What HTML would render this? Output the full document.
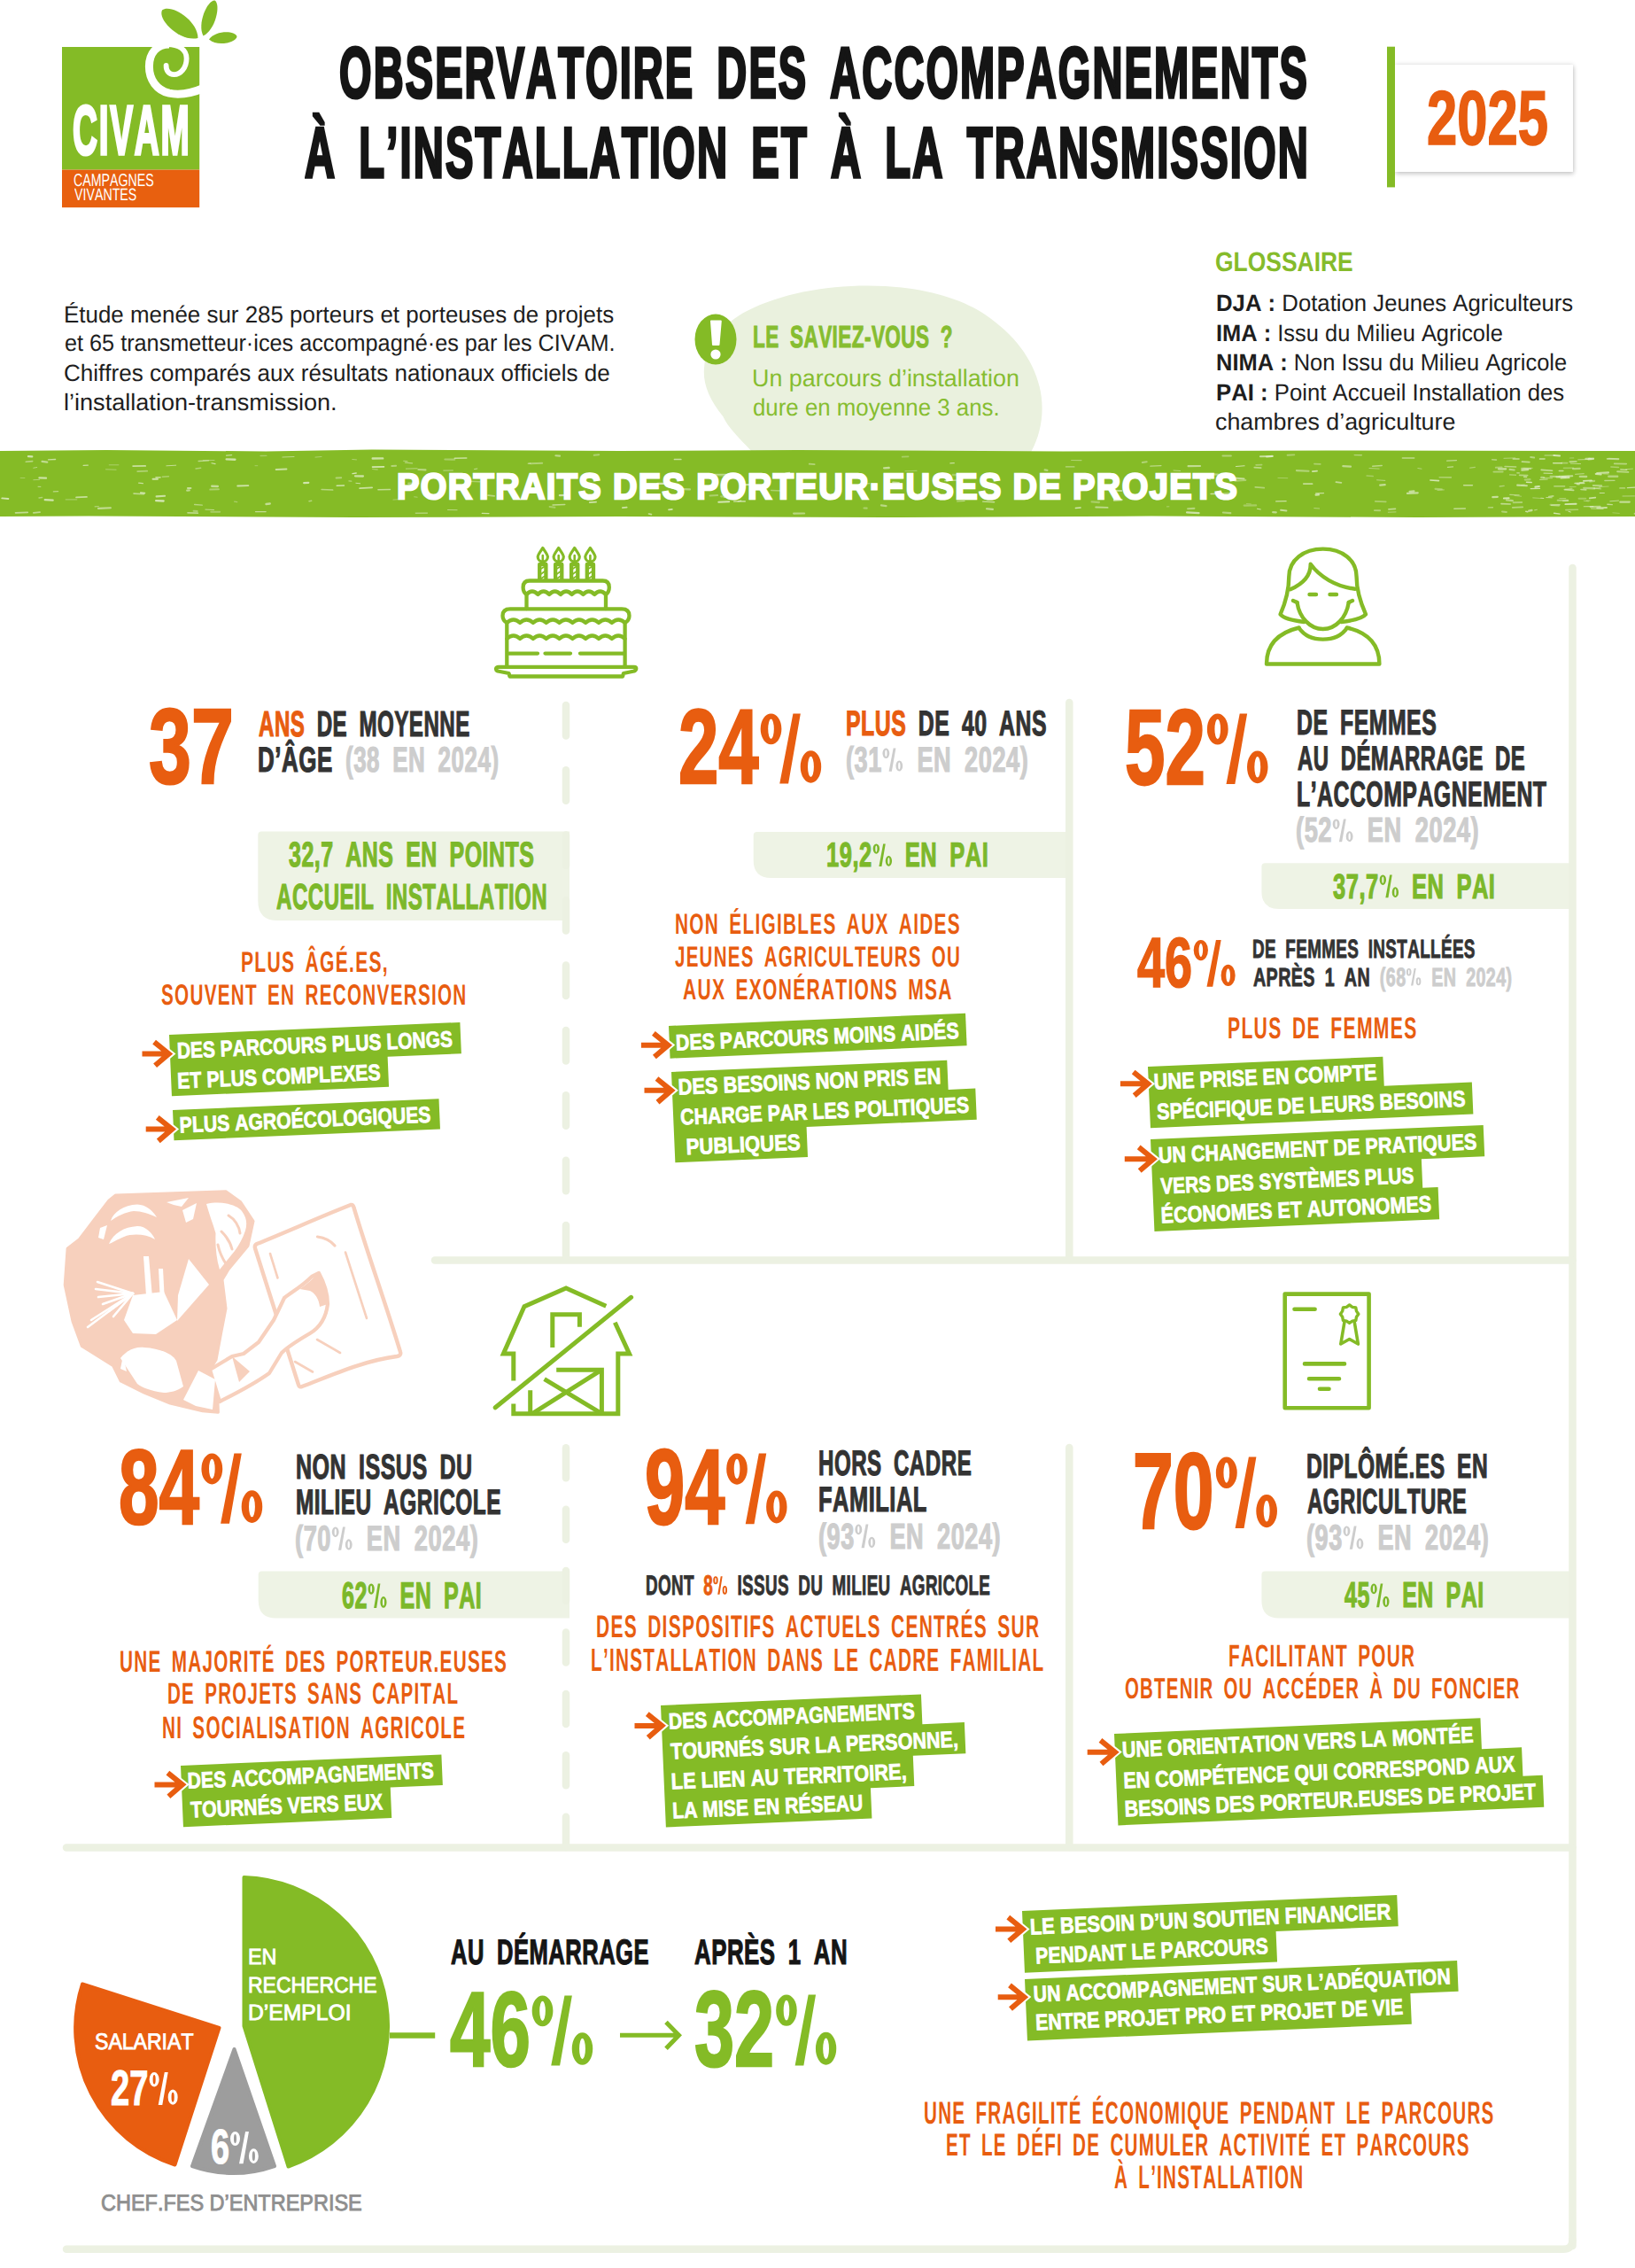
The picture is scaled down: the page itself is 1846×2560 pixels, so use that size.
<!DOCTYPE html><html lang="fr"><head><meta charset="utf-8"><title>Observatoire des accompagnements 2025</title><style>
*{margin:0;padding:0;box-sizing:border-box}
html,body{width:1846px;height:2560px;background:#fff;overflow:hidden}
body{position:relative;font-family:"Liberation Sans",sans-serif;font-kerning:none;font-variant-ligatures:none;text-rendering:geometricPrecision}
.t{position:absolute;white-space:nowrap;transform-origin:0 0}
.tag{position:absolute;width:0;height:0;transform-origin:0 0}
.bx{position:absolute;background:#84bb26}
.tb{position:absolute;left:0;top:0;overflow:visible}
svg.l{position:absolute;left:0;top:0}
.y25{position:absolute;left:1575px;top:73.4px;width:201px;height:121px;background:#fff;box-shadow:0 0 5px rgba(0,0,0,0.16),1px 3px 5px rgba(0,0,0,0.14)}
</style></head><body><svg class="l" width="1846" height="2560" viewBox="0 0 1846 2560"><rect x="70" y="53" width="155.2" height="138.6" fill="#84bb26"/><rect x="70" y="191.6" width="155.2" height="42.6" fill="#e8600f"/><path d="M 231,99 C 216,105.5 203,107.8 191,105.2 C 177,101.8 168.4,90 168.4,75 C 168.4,60 177,50 191,50" fill="none" stroke="#fff" stroke-width="9"/><path d="M 189,50 C 202,50 210.6,56 210.6,66 C 210.6,77 203.6,84.2 196.5,84.2 C 190.5,84.2 187.5,79.5 187.6,74" fill="none" stroke="#fff" stroke-width="5.8" stroke-linecap="round"/><path d="M 223.5,43.0 C 223.2,22.5 192.4,3.6 183.0,11.5 C 177.7,22.5 203.6,47.8 223.5,43.0 Z" fill="#84bb26"/><path d="M 229.5,40.5 C 243.2,33.9 249.7,5.0 242.5,0.5 C 234.0,-0.0 222.3,27.1 229.5,40.5 Z" fill="#84bb26"/><path d="M 236.0,44.5 C 244.9,53.1 266.7,48.3 267.5,41.0 C 265.1,34.1 242.8,34.2 236.0,44.5 Z" fill="#84bb26"/><path d="M 979.5,322.4 C 1040,322.4 1085,337 1111.7,354.7 C 1145,377 1166,405 1173.6,436.3 C 1180,462 1176,490 1163,512 L 851,512 C 835,495 822,483 816.3,470.1 C 800,450 793,432 795.2,413.8 C 797,390 815,365 844.4,350.5 C 880,332 930,322.4 979.5,322.4 Z" fill="#eaf1de"/><ellipse cx="808" cy="383" rx="23.5" ry="28.5" fill="#84bb26"/><path d="M 803,362.5 L 813.8,362.5 L 811.5,389 L 805,389 Z" fill="#fff" stroke="#fff" stroke-width="2" stroke-linejoin="round"/><circle cx="808" cy="400" r="5.6" fill="#fff"/><path d="M 0,509 L 120,508 L 300,509.5 L 420,507.5 L 700,509 L 900,508 L 1200,509.5 L 1500,508.5 L 1846,509 L 1846,583 L 1600,584 L 1300,582.5 L 1000,584 L 700,583 L 400,584 L 100,582.5 L 0,583 Z" fill="#85bb26"/><g stroke="#e2efcb" stroke-linecap="round"><line x1="1567.9" y1="574.9" x2="1575.5" y2="574.4" stroke-width="1.6" opacity="0.64"/><line x1="264.6" y1="566.1" x2="267.7" y2="566.6" stroke-width="1.3" opacity="0.40"/><line x1="17.6" y1="578.8" x2="31.2" y2="578.3" stroke-width="1.8" opacity="0.66"/><line x1="1772.4" y1="517.0" x2="1776.7" y2="516.9" stroke-width="1.2" opacity="0.37"/><line x1="1652.7" y1="547.8" x2="1662.4" y2="547.7" stroke-width="1.6" opacity="0.68"/><line x1="1845.6" y1="579.7" x2="1857.7" y2="579.3" stroke-width="1.9" opacity="0.51"/><line x1="1701.0" y1="564.3" x2="1707.8" y2="565.1" stroke-width="2.2" opacity="0.54"/><line x1="420.5" y1="527.1" x2="433.5" y2="526.9" stroke-width="1.6" opacity="0.84"/><line x1="1788.2" y1="565.2" x2="1793.4" y2="565.9" stroke-width="0.9" opacity="0.52"/><line x1="535.6" y1="529.5" x2="538.8" y2="529.0" stroke-width="0.9" opacity="0.75"/><line x1="187.9" y1="525.8" x2="198.7" y2="525.2" stroke-width="1.0" opacity="0.67"/><line x1="1463.9" y1="531.1" x2="1477.5" y2="531.7" stroke-width="2.1" opacity="0.50"/><line x1="1751.5" y1="570.2" x2="1761.2" y2="569.8" stroke-width="1.0" opacity="0.84"/><line x1="1810.5" y1="535.0" x2="1816.1" y2="535.2" stroke-width="0.9" opacity="0.40"/><line x1="1783.8" y1="537.9" x2="1791.2" y2="538.0" stroke-width="2.3" opacity="0.59"/><line x1="599.2" y1="523.3" x2="612.1" y2="522.8" stroke-width="2.1" opacity="0.47"/><line x1="1341.6" y1="526.2" x2="1355.0" y2="526.0" stroke-width="2.2" opacity="0.65"/><line x1="1696.0" y1="577.5" x2="1700.9" y2="578.0" stroke-width="1.9" opacity="0.48"/><line x1="123.2" y1="524.8" x2="133.9" y2="524.8" stroke-width="0.9" opacity="0.46"/><line x1="1022.0" y1="531.8" x2="1035.0" y2="531.4" stroke-width="1.1" opacity="0.36"/><line x1="1418.1" y1="524.8" x2="1424.6" y2="524.6" stroke-width="1.7" opacity="0.42"/><line x1="1380.9" y1="557.0" x2="1391.2" y2="556.3" stroke-width="1.7" opacity="0.42"/><line x1="1832.0" y1="560.0" x2="1845.5" y2="559.9" stroke-width="0.8" opacity="0.67"/><line x1="732.5" y1="580.0" x2="735.4" y2="580.6" stroke-width="1.7" opacity="0.72"/><line x1="1109.6" y1="566.1" x2="1122.6" y2="566.8" stroke-width="1.4" opacity="0.69"/><line x1="828.8" y1="566.0" x2="841.2" y2="565.8" stroke-width="1.7" opacity="0.66"/><line x1="255.7" y1="518.4" x2="265.4" y2="518.7" stroke-width="2.4" opacity="0.79"/><line x1="1620.5" y1="551.9" x2="1627.8" y2="552.3" stroke-width="2.1" opacity="0.39"/><line x1="1783.8" y1="545.2" x2="1788.6" y2="545.4" stroke-width="1.9" opacity="0.60"/><line x1="670.7" y1="513.8" x2="676.3" y2="513.2" stroke-width="1.9" opacity="0.45"/><line x1="1066.8" y1="542.6" x2="1079.5" y2="542.1" stroke-width="1.3" opacity="0.68"/><line x1="1641.8" y1="574.3" x2="1654.4" y2="574.0" stroke-width="1.4" opacity="0.64"/><line x1="1767.4" y1="569.1" x2="1779.6" y2="568.7" stroke-width="1.9" opacity="0.83"/><line x1="1760.3" y1="531.4" x2="1764.9" y2="531.4" stroke-width="1.5" opacity="0.66"/><line x1="1820.9" y1="578.8" x2="1828.3" y2="579.4" stroke-width="0.9" opacity="0.37"/><line x1="1800.5" y1="551.2" x2="1806.3" y2="550.6" stroke-width="2.1" opacity="0.36"/><line x1="1407.4" y1="568.6" x2="1412.3" y2="568.8" stroke-width="1.0" opacity="0.37"/><line x1="1589.0" y1="556.9" x2="1600.7" y2="556.4" stroke-width="2.3" opacity="0.69"/><line x1="1453.6" y1="513.7" x2="1461.3" y2="513.4" stroke-width="1.9" opacity="0.44"/><line x1="1798.8" y1="547.9" x2="1808.2" y2="548.3" stroke-width="2.0" opacity="0.55"/><line x1="505.5" y1="575.5" x2="516.1" y2="575.7" stroke-width="1.0" opacity="0.58"/><line x1="789.3" y1="551.1" x2="801.8" y2="551.1" stroke-width="2.1" opacity="0.82"/><line x1="86.1" y1="561.4" x2="97.9" y2="560.9" stroke-width="1.8" opacity="0.71"/><line x1="1380.9" y1="578.5" x2="1389.3" y2="579.1" stroke-width="2.1" opacity="0.51"/><line x1="761.5" y1="518.5" x2="768.8" y2="518.5" stroke-width="1.7" opacity="0.73"/><line x1="1816.2" y1="517.3" x2="1827.8" y2="517.8" stroke-width="1.1" opacity="0.52"/><line x1="1713.2" y1="547.6" x2="1723.9" y2="548.3" stroke-width="2.1" opacity="0.69"/><line x1="1684.7" y1="518.8" x2="1689.4" y2="519.1" stroke-width="1.6" opacity="0.50"/><line x1="219.6" y1="569.5" x2="228.3" y2="570.1" stroke-width="1.3" opacity="0.54"/><line x1="624.1" y1="570.0" x2="637.7" y2="569.5" stroke-width="1.6" opacity="0.64"/><line x1="211.3" y1="553.6" x2="213.7" y2="553.4" stroke-width="2.4" opacity="0.61"/><line x1="971.6" y1="545.9" x2="981.9" y2="545.8" stroke-width="0.9" opacity="0.62"/><line x1="1325.0" y1="531.0" x2="1332.6" y2="531.5" stroke-width="1.0" opacity="0.57"/><line x1="887.0" y1="534.3" x2="891.3" y2="533.7" stroke-width="1.8" opacity="0.81"/><line x1="442.3" y1="526.0" x2="447.1" y2="525.8" stroke-width="1.9" opacity="0.51"/><line x1="44.1" y1="562.0" x2="47.5" y2="561.5" stroke-width="1.6" opacity="0.48"/><line x1="183.4" y1="538.2" x2="190.4" y2="537.7" stroke-width="1.6" opacity="0.43"/><line x1="268.2" y1="548.5" x2="280.4" y2="548.1" stroke-width="1.8" opacity="0.78"/><line x1="1214.3" y1="573.5" x2="1220.1" y2="573.0" stroke-width="1.3" opacity="0.81"/><line x1="1289.8" y1="522.0" x2="1294.7" y2="521.3" stroke-width="2.0" opacity="0.48"/><line x1="833.2" y1="565.9" x2="836.7" y2="565.2" stroke-width="1.4" opacity="0.69"/><line x1="1796.5" y1="574.1" x2="1810.1" y2="574.5" stroke-width="1.0" opacity="0.60"/><line x1="288.0" y1="525.7" x2="290.8" y2="525.7" stroke-width="1.0" opacity="0.37"/><line x1="238.9" y1="522.8" x2="243.1" y2="523.6" stroke-width="1.1" opacity="0.77"/><line x1="513.3" y1="517.2" x2="526.8" y2="516.9" stroke-width="1.5" opacity="0.73"/><line x1="1554.6" y1="541.8" x2="1563.8" y2="542.4" stroke-width="0.8" opacity="0.70"/><line x1="1760.8" y1="562.5" x2="1767.7" y2="562.6" stroke-width="1.1" opacity="0.43"/><line x1="1829.3" y1="566.7" x2="1839.8" y2="566.6" stroke-width="2.2" opacity="0.66"/><line x1="211.8" y1="578.8" x2="223.5" y2="579.2" stroke-width="1.2" opacity="0.81"/><line x1="1218.3" y1="540.2" x2="1231.1" y2="540.6" stroke-width="2.2" opacity="0.70"/><line x1="817.6" y1="561.4" x2="820.5" y2="560.6" stroke-width="1.3" opacity="0.58"/><line x1="1591.6" y1="554.8" x2="1596.4" y2="554.5" stroke-width="2.3" opacity="0.68"/><line x1="239.2" y1="548.7" x2="245.9" y2="549.0" stroke-width="2.4" opacity="0.67"/><line x1="1380.5" y1="514.5" x2="1389.9" y2="514.4" stroke-width="2.0" opacity="0.48"/><line x1="1720.5" y1="538.2" x2="1723.7" y2="538.3" stroke-width="1.2" opacity="0.80"/><line x1="406.2" y1="551.1" x2="420.1" y2="550.4" stroke-width="1.8" opacity="0.75"/><line x1="318.9" y1="516.0" x2="332.0" y2="515.5" stroke-width="1.1" opacity="0.59"/><line x1="1583.4" y1="516.9" x2="1596.7" y2="517.1" stroke-width="1.5" opacity="0.61"/><line x1="1485.7" y1="556.9" x2="1494.5" y2="556.6" stroke-width="1.3" opacity="0.71"/><line x1="1728.2" y1="515.9" x2="1732.1" y2="516.5" stroke-width="2.0" opacity="0.54"/><line x1="469.2" y1="579.2" x2="482.5" y2="579.1" stroke-width="0.9" opacity="0.80"/><line x1="1692.0" y1="529.3" x2="1700.2" y2="529.3" stroke-width="2.3" opacity="0.71"/><line x1="1220.4" y1="553.4" x2="1223.7" y2="553.0" stroke-width="1.8" opacity="0.58"/><line x1="1772.4" y1="521.3" x2="1779.7" y2="520.9" stroke-width="1.9" opacity="0.58"/><line x1="176.2" y1="565.1" x2="184.6" y2="565.5" stroke-width="2.4" opacity="0.83"/><line x1="1707.8" y1="572.8" x2="1719.2" y2="572.4" stroke-width="1.8" opacity="0.53"/><line x1="237.3" y1="552.6" x2="246.9" y2="552.2" stroke-width="2.0" opacity="0.44"/><line x1="1317.4" y1="571.9" x2="1319.9" y2="571.8" stroke-width="0.9" opacity="0.49"/><line x1="43.0" y1="549.3" x2="45.9" y2="549.4" stroke-width="0.9" opacity="0.69"/><line x1="156.7" y1="545.1" x2="161.3" y2="545.6" stroke-width="1.3" opacity="0.72"/><line x1="1708.7" y1="567.2" x2="1718.2" y2="567.1" stroke-width="2.0" opacity="0.46"/><line x1="1816.3" y1="537.7" x2="1826.2" y2="537.8" stroke-width="2.4" opacity="0.51"/><line x1="1322.4" y1="541.7" x2="1328.8" y2="541.0" stroke-width="1.0" opacity="0.79"/><line x1="1778.0" y1="545.5" x2="1788.2" y2="544.8" stroke-width="1.3" opacity="0.74"/><line x1="1793.3" y1="518.5" x2="1798.9" y2="518.1" stroke-width="2.0" opacity="0.70"/><line x1="1745.8" y1="561.6" x2="1752.2" y2="561.8" stroke-width="1.0" opacity="0.70"/><line x1="1341.1" y1="574.2" x2="1348.4" y2="573.9" stroke-width="2.1" opacity="0.50"/><line x1="1680.4" y1="572.9" x2="1685.4" y2="572.7" stroke-width="1.4" opacity="0.53"/><line x1="1516.3" y1="526.1" x2="1525.0" y2="526.6" stroke-width="2.1" opacity="0.62"/><line x1="74.2" y1="563.8" x2="86.7" y2="563.9" stroke-width="1.3" opacity="0.36"/><line x1="238.3" y1="577.7" x2="248.1" y2="577.8" stroke-width="2.1" opacity="0.38"/><line x1="502.4" y1="518.5" x2="513.2" y2="518.7" stroke-width="2.2" opacity="0.39"/><line x1="1806.3" y1="556.5" x2="1811.3" y2="556.5" stroke-width="1.2" opacity="0.73"/><line x1="806.5" y1="535.6" x2="820.1" y2="535.7" stroke-width="1.9" opacity="0.60"/><line x1="1114.0" y1="574.3" x2="1120.9" y2="574.9" stroke-width="2.1" opacity="0.68"/><line x1="1237.2" y1="572.5" x2="1250.6" y2="572.9" stroke-width="1.8" opacity="0.61"/><line x1="833.2" y1="541.2" x2="836.9" y2="541.0" stroke-width="2.0" opacity="0.85"/><line x1="1721.9" y1="541.5" x2="1727.4" y2="541.2" stroke-width="2.4" opacity="0.38"/><line x1="1791.1" y1="565.0" x2="1795.2" y2="565.1" stroke-width="0.9" opacity="0.58"/><line x1="455.6" y1="520.3" x2="459.9" y2="520.6" stroke-width="1.1" opacity="0.47"/><line x1="94.1" y1="525.4" x2="99.4" y2="525.1" stroke-width="1.1" opacity="0.73"/><line x1="343.2" y1="545.1" x2="348.3" y2="544.9" stroke-width="2.2" opacity="0.81"/><line x1="401.9" y1="545.3" x2="406.6" y2="545.8" stroke-width="0.9" opacity="0.82"/><line x1="1558.3" y1="547.6" x2="1563.6" y2="547.1" stroke-width="2.4" opacity="0.68"/><line x1="1763.7" y1="537.9" x2="1775.3" y2="537.3" stroke-width="1.9" opacity="0.65"/><line x1="1740.2" y1="530.4" x2="1752.6" y2="531.2" stroke-width="1.6" opacity="0.67"/><line x1="1773.4" y1="523.1" x2="1784.6" y2="523.6" stroke-width="0.8" opacity="0.76"/><line x1="500.8" y1="531.1" x2="511.4" y2="531.0" stroke-width="1.0" opacity="0.59"/><line x1="994.9" y1="570.4" x2="1000.5" y2="571.1" stroke-width="2.1" opacity="0.56"/><line x1="1818.9" y1="527.0" x2="1827.4" y2="527.5" stroke-width="1.6" opacity="0.43"/><line x1="1738.5" y1="518.1" x2="1744.1" y2="517.9" stroke-width="1.5" opacity="0.71"/><line x1="44.4" y1="539.4" x2="52.0" y2="539.7" stroke-width="2.3" opacity="0.76"/><line x1="1748.8" y1="560.6" x2="1753.7" y2="559.8" stroke-width="1.7" opacity="0.58"/><line x1="1203.5" y1="526.9" x2="1212.9" y2="526.9" stroke-width="1.3" opacity="0.54"/><line x1="1742.6" y1="539.3" x2="1752.6" y2="539.6" stroke-width="1.2" opacity="0.45"/><line x1="1837.4" y1="550.7" x2="1848.1" y2="550.1" stroke-width="1.3" opacity="0.76"/><line x1="1704.7" y1="558.4" x2="1715.2" y2="558.9" stroke-width="1.1" opacity="0.55"/><line x1="37.8" y1="528.2" x2="41.7" y2="527.5" stroke-width="1.0" opacity="0.55"/><line x1="838.5" y1="547.3" x2="848.2" y2="547.1" stroke-width="2.0" opacity="0.76"/><line x1="1754.3" y1="514.0" x2="1761.1" y2="514.5" stroke-width="1.9" opacity="0.84"/><line x1="255.6" y1="514.2" x2="261.6" y2="513.6" stroke-width="1.3" opacity="0.68"/><line x1="1552.8" y1="565.8" x2="1564.7" y2="566.3" stroke-width="1.8" opacity="0.43"/><line x1="957.3" y1="536.6" x2="965.3" y2="537.4" stroke-width="1.0" opacity="0.71"/><line x1="300.5" y1="569.0" x2="304.8" y2="568.5" stroke-width="2.3" opacity="0.66"/><line x1="1728.2" y1="551.6" x2="1738.5" y2="551.4" stroke-width="1.3" opacity="0.81"/><line x1="1437.2" y1="578.2" x2="1440.8" y2="578.3" stroke-width="2.2" opacity="0.62"/><line x1="111.0" y1="573.9" x2="124.9" y2="573.3" stroke-width="2.1" opacity="0.65"/><line x1="702.8" y1="573.1" x2="707.7" y2="572.6" stroke-width="1.7" opacity="0.77"/><line x1="32.0" y1="515.1" x2="36.2" y2="515.4" stroke-width="2.4" opacity="0.82"/><line x1="1794.7" y1="562.4" x2="1801.3" y2="561.7" stroke-width="1.7" opacity="0.75"/><line x1="1763.0" y1="522.6" x2="1769.6" y2="522.6" stroke-width="1.7" opacity="0.44"/><line x1="1778.6" y1="535.3" x2="1788.3" y2="534.7" stroke-width="0.9" opacity="0.69"/><line x1="1008.1" y1="544.5" x2="1015.0" y2="544.9" stroke-width="1.8" opacity="0.69"/><line x1="896.1" y1="579.6" x2="908.1" y2="579.5" stroke-width="2.2" opacity="0.55"/><line x1="380.2" y1="548.2" x2="388.5" y2="548.0" stroke-width="1.5" opacity="0.80"/><line x1="1803.2" y1="573.3" x2="1814.0" y2="573.0" stroke-width="1.8" opacity="0.73"/><line x1="29.3" y1="521.3" x2="36.7" y2="520.6" stroke-width="1.6" opacity="0.55"/><line x1="221.0" y1="529.0" x2="226.7" y2="528.3" stroke-width="1.4" opacity="0.47"/><line x1="1367.1" y1="557.6" x2="1379.5" y2="557.2" stroke-width="1.5" opacity="0.75"/><line x1="975.5" y1="573.5" x2="978.7" y2="573.6" stroke-width="2.1" opacity="0.41"/><line x1="420.6" y1="529.3" x2="426.2" y2="530.0" stroke-width="1.3" opacity="0.38"/><line x1="809.3" y1="536.9" x2="818.3" y2="537.5" stroke-width="0.9" opacity="0.37"/><line x1="1767.8" y1="575.6" x2="1781.5" y2="575.2" stroke-width="1.6" opacity="0.45"/><line x1="1298.9" y1="526.1" x2="1310.9" y2="525.6" stroke-width="1.4" opacity="0.59"/><line x1="1395.5" y1="526.5" x2="1405.1" y2="525.8" stroke-width="1.1" opacity="0.79"/><line x1="1803.2" y1="534.0" x2="1816.0" y2="533.4" stroke-width="2.2" opacity="0.71"/><line x1="393.9" y1="542.8" x2="396.8" y2="543.2" stroke-width="1.2" opacity="0.50"/><line x1="1718.2" y1="528.8" x2="1728.2" y2="529.0" stroke-width="2.1" opacity="0.54"/><line x1="998.1" y1="528.3" x2="1003.7" y2="528.0" stroke-width="2.3" opacity="0.68"/><line x1="37.8" y1="578.9" x2="45.1" y2="578.1" stroke-width="1.6" opacity="0.62"/><line x1="119.5" y1="529.8" x2="131.1" y2="530.2" stroke-width="0.9" opacity="0.49"/><line x1="1733.5" y1="549.7" x2="1737.8" y2="549.0" stroke-width="2.2" opacity="0.84"/><line x1="1625.2" y1="538.8" x2="1638.3" y2="538.9" stroke-width="1.6" opacity="0.44"/><line x1="151.0" y1="557.1" x2="162.4" y2="557.7" stroke-width="1.6" opacity="0.60"/><line x1="218.6" y1="576.8" x2="222.7" y2="576.9" stroke-width="2.0" opacity="0.43"/><line x1="1758.7" y1="564.8" x2="1770.1" y2="564.8" stroke-width="2.1" opacity="0.47"/><line x1="1780.5" y1="546.4" x2="1782.9" y2="546.5" stroke-width="1.8" opacity="0.71"/><line x1="596.4" y1="523.2" x2="598.6" y2="523.1" stroke-width="1.6" opacity="0.57"/><line x1="1814.6" y1="517.9" x2="1827.5" y2="518.3" stroke-width="1.7" opacity="0.62"/><line x1="1712.8" y1="533.8" x2="1715.3" y2="533.9" stroke-width="1.3" opacity="0.66"/><line x1="1781.8" y1="518.9" x2="1793.7" y2="518.4" stroke-width="1.1" opacity="0.48"/><line x1="349.0" y1="565.7" x2="351.7" y2="565.3" stroke-width="1.5" opacity="0.53"/><line x1="461.3" y1="545.8" x2="472.4" y2="545.7" stroke-width="2.4" opacity="0.42"/><line x1="458.4" y1="529.1" x2="471.1" y2="528.8" stroke-width="1.0" opacity="0.55"/><line x1="1422.9" y1="515.3" x2="1436.9" y2="514.9" stroke-width="2.0" opacity="0.72"/><line x1="1776.1" y1="529.2" x2="1783.6" y2="528.9" stroke-width="2.3" opacity="0.53"/><line x1="1018.7" y1="515.7" x2="1025.5" y2="515.4" stroke-width="1.8" opacity="0.38"/><line x1="363.1" y1="552.6" x2="375.7" y2="553.1" stroke-width="1.5" opacity="0.55"/><line x1="1634.4" y1="527.4" x2="1640.6" y2="526.9" stroke-width="1.1" opacity="0.62"/><line x1="1723.5" y1="544.3" x2="1729.2" y2="544.6" stroke-width="1.5" opacity="0.85"/><line x1="620.5" y1="538.7" x2="623.4" y2="538.3" stroke-width="1.9" opacity="0.53"/><line x1="1718.4" y1="530.6" x2="1725.1" y2="530.2" stroke-width="2.3" opacity="0.71"/><line x1="1446.1" y1="575.8" x2="1452.4" y2="576.4" stroke-width="2.0" opacity="0.71"/><line x1="1740.2" y1="538.8" x2="1743.2" y2="539.2" stroke-width="2.2" opacity="0.51"/><line x1="23.1" y1="539.4" x2="27.9" y2="539.5" stroke-width="0.9" opacity="0.43"/><line x1="1738.7" y1="541.4" x2="1747.2" y2="541.0" stroke-width="1.0" opacity="0.70"/><line x1="1072.9" y1="522.9" x2="1077.3" y2="522.7" stroke-width="1.2" opacity="0.71"/><line x1="1659.8" y1="528.1" x2="1665.3" y2="527.4" stroke-width="1.4" opacity="0.46"/><line x1="1788.3" y1="550.9" x2="1800.0" y2="551.2" stroke-width="2.4" opacity="0.50"/><line x1="631.9" y1="559.2" x2="641.9" y2="558.8" stroke-width="2.3" opacity="0.78"/><line x1="37.8" y1="541.7" x2="44.5" y2="541.4" stroke-width="0.9" opacity="0.54"/><line x1="1483.9" y1="523.6" x2="1490.8" y2="523.9" stroke-width="1.6" opacity="0.43"/><line x1="1704.5" y1="535.9" x2="1711.6" y2="536.2" stroke-width="1.0" opacity="0.64"/><line x1="294.1" y1="514.5" x2="300.8" y2="514.4" stroke-width="1.4" opacity="0.38"/><line x1="1767.3" y1="552.3" x2="1774.9" y2="551.5" stroke-width="1.3" opacity="0.48"/><line x1="1829.1" y1="550.9" x2="1834.3" y2="550.9" stroke-width="1.9" opacity="0.44"/><line x1="401.0" y1="537.3" x2="409.9" y2="537.5" stroke-width="2.3" opacity="0.74"/><line x1="172.6" y1="540.8" x2="177.9" y2="540.7" stroke-width="2.1" opacity="0.79"/><line x1="457.4" y1="522.1" x2="465.5" y2="522.9" stroke-width="1.3" opacity="0.53"/><line x1="1720.0" y1="528.3" x2="1730.2" y2="528.4" stroke-width="1.2" opacity="0.35"/><line x1="1471.8" y1="546.1" x2="1481.6" y2="546.2" stroke-width="1.7" opacity="0.66"/><line x1="1369.4" y1="535.3" x2="1375.6" y2="535.7" stroke-width="2.2" opacity="0.51"/><line x1="288.4" y1="577.6" x2="300.2" y2="577.6" stroke-width="1.1" opacity="0.66"/><line x1="155.2" y1="532.1" x2="166.2" y2="531.7" stroke-width="1.7" opacity="0.47"/><line x1="1717.7" y1="547.4" x2="1721.2" y2="546.8" stroke-width="0.9" opacity="0.38"/><line x1="530.5" y1="543.3" x2="541.8" y2="543.8" stroke-width="1.6" opacity="0.43"/><line x1="472.4" y1="530.0" x2="480.5" y2="530.4" stroke-width="2.1" opacity="0.55"/><line x1="1801.7" y1="534.9" x2="1807.7" y2="535.4" stroke-width="2.0" opacity="0.77"/><line x1="176.6" y1="560.4" x2="186.1" y2="559.8" stroke-width="2.1" opacity="0.75"/><line x1="1600.8" y1="528.5" x2="1605.0" y2="529.2" stroke-width="0.8" opacity="0.64"/><line x1="551.1" y1="559.1" x2="558.1" y2="559.8" stroke-width="1.8" opacity="0.55"/><line x1="467.7" y1="560.8" x2="471.1" y2="561.2" stroke-width="0.9" opacity="0.49"/><line x1="537.7" y1="535.1" x2="540.1" y2="534.9" stroke-width="1.7" opacity="0.59"/><line x1="1814.9" y1="569.2" x2="1820.3" y2="569.6" stroke-width="1.4" opacity="0.66"/><line x1="801.6" y1="559.5" x2="810.1" y2="559.0" stroke-width="2.1" opacity="0.42"/><line x1="1835.6" y1="529.8" x2="1843.5" y2="529.1" stroke-width="1.0" opacity="0.51"/><line x1="60.3" y1="554.9" x2="65.6" y2="554.7" stroke-width="1.2" opacity="0.59"/><line x1="1698.0" y1="517.3" x2="1710.7" y2="516.8" stroke-width="1.3" opacity="0.39"/><line x1="1699.1" y1="526.5" x2="1711.6" y2="527.0" stroke-width="1.6" opacity="0.56"/><line x1="1417.3" y1="549.9" x2="1427.2" y2="550.6" stroke-width="1.8" opacity="0.49"/><line x1="1394.4" y1="542.7" x2="1406.4" y2="541.9" stroke-width="2.0" opacity="0.44"/><line x1="1708.5" y1="518.0" x2="1714.8" y2="518.0" stroke-width="2.0" opacity="0.51"/><line x1="1722.8" y1="577.3" x2="1724.9" y2="577.7" stroke-width="1.6" opacity="0.76"/><line x1="811.3" y1="566.8" x2="823.2" y2="566.2" stroke-width="2.0" opacity="0.84"/><line x1="814.2" y1="560.3" x2="819.2" y2="560.4" stroke-width="2.3" opacity="0.36"/><line x1="1750.6" y1="537.7" x2="1760.5" y2="538.0" stroke-width="2.1" opacity="0.53"/><line x1="1483.8" y1="573.6" x2="1489.6" y2="574.0" stroke-width="1.0" opacity="0.52"/><line x1="1805.9" y1="549.6" x2="1816.1" y2="549.0" stroke-width="1.1" opacity="0.40"/><line x1="1529.2" y1="513.6" x2="1537.3" y2="513.7" stroke-width="1.4" opacity="0.51"/><line x1="620.6" y1="572.0" x2="626.4" y2="572.8" stroke-width="2.0" opacity="0.40"/><line x1="1688.8" y1="527.7" x2="1695.7" y2="527.4" stroke-width="1.9" opacity="0.44"/><line x1="398.0" y1="534.6" x2="402.2" y2="534.0" stroke-width="1.4" opacity="0.84"/><line x1="158.8" y1="556.1" x2="163.4" y2="556.7" stroke-width="1.8" opacity="0.79"/><line x1="212.0" y1="551.0" x2="215.4" y2="551.0" stroke-width="2.1" opacity="0.69"/><line x1="176.1" y1="538.8" x2="180.9" y2="538.8" stroke-width="1.8" opacity="0.64"/><line x1="1787.9" y1="542.9" x2="1797.0" y2="542.4" stroke-width="1.8" opacity="0.82"/><line x1="1697.9" y1="562.4" x2="1703.6" y2="562.3" stroke-width="2.0" opacity="0.84"/><line x1="544.2" y1="579.3" x2="552.0" y2="579.6" stroke-width="1.2" opacity="0.77"/><line x1="1232.7" y1="566.4" x2="1240.8" y2="567.0" stroke-width="2.4" opacity="0.38"/><line x1="665.7" y1="567.1" x2="673.1" y2="566.6" stroke-width="1.7" opacity="0.78"/><line x1="1790.4" y1="517.9" x2="1799.1" y2="517.5" stroke-width="2.1" opacity="0.60"/><line x1="1257.9" y1="564.6" x2="1266.5" y2="564.1" stroke-width="2.2" opacity="0.75"/><line x1="1430.1" y1="515.5" x2="1436.3" y2="514.9" stroke-width="2.2" opacity="0.77"/><line x1="1750.6" y1="569.9" x2="1760.0" y2="570.7" stroke-width="2.2" opacity="0.39"/><line x1="1788.2" y1="571.7" x2="1798.9" y2="571.6" stroke-width="1.1" opacity="0.68"/><line x1="1743.0" y1="534.1" x2="1752.5" y2="534.4" stroke-width="1.2" opacity="0.65"/><line x1="1710.0" y1="559.5" x2="1717.6" y2="560.2" stroke-width="1.0" opacity="0.41"/><line x1="150.2" y1="526.1" x2="164.1" y2="525.9" stroke-width="1.9" opacity="0.72"/><line x1="1753.7" y1="522.8" x2="1763.3" y2="522.7" stroke-width="1.5" opacity="0.76"/><line x1="1551.9" y1="576.1" x2="1558.1" y2="576.2" stroke-width="1.9" opacity="0.47"/><line x1="1826.1" y1="532.2" x2="1838.4" y2="532.9" stroke-width="1.9" opacity="0.58"/><line x1="1623.0" y1="553.3" x2="1630.4" y2="552.9" stroke-width="0.9" opacity="0.56"/><line x1="1686.4" y1="532.6" x2="1696.7" y2="532.5" stroke-width="1.9" opacity="0.47"/><line x1="1829.7" y1="529.9" x2="1836.7" y2="530.4" stroke-width="1.3" opacity="0.76"/><line x1="229.3" y1="519.7" x2="242.0" y2="519.5" stroke-width="0.9" opacity="0.53"/><line x1="1075.8" y1="536.0" x2="1088.6" y2="536.3" stroke-width="2.3" opacity="0.36"/><line x1="1508.5" y1="544.1" x2="1514.3" y2="544.9" stroke-width="1.9" opacity="0.65"/><line x1="1392.8" y1="539.5" x2="1404.7" y2="540.3" stroke-width="1.8" opacity="0.70"/><line x1="1762.1" y1="539.9" x2="1772.0" y2="539.4" stroke-width="1.1" opacity="0.84"/><line x1="1442.9" y1="539.4" x2="1453.8" y2="539.7" stroke-width="0.9" opacity="0.43"/><line x1="311.7" y1="530.0" x2="323.4" y2="529.4" stroke-width="2.0" opacity="0.74"/><line x1="1404.7" y1="570.6" x2="1418.1" y2="570.4" stroke-width="2.2" opacity="0.36"/><line x1="224.1" y1="520.5" x2="235.6" y2="519.9" stroke-width="1.3" opacity="0.60"/><line x1="54.5" y1="518.9" x2="62.6" y2="518.5" stroke-width="1.3" opacity="0.74"/><line x1="1416.3" y1="527.6" x2="1423.7" y2="528.1" stroke-width="1.7" opacity="0.58"/><line x1="1822.6" y1="523.4" x2="1836.3" y2="523.6" stroke-width="1.6" opacity="0.55"/><line x1="1364.5" y1="540.7" x2="1366.6" y2="541.1" stroke-width="1.0" opacity="0.76"/><line x1="573.4" y1="548.6" x2="575.8" y2="549.3" stroke-width="1.0" opacity="0.50"/><line x1="356.0" y1="516.1" x2="363.0" y2="515.5" stroke-width="0.9" opacity="0.48"/><line x1="742.2" y1="545.8" x2="752.1" y2="545.9" stroke-width="2.2" opacity="0.82"/><line x1="379.6" y1="539.4" x2="385.2" y2="539.2" stroke-width="2.0" opacity="0.48"/><line x1="1543.1" y1="537.0" x2="1550.2" y2="537.6" stroke-width="1.5" opacity="0.37"/><line x1="1772.3" y1="549.7" x2="1779.1" y2="549.5" stroke-width="1.2" opacity="0.40"/><line x1="1765.5" y1="528.4" x2="1776.5" y2="528.3" stroke-width="1.6" opacity="0.35"/><line x1="426.9" y1="552.8" x2="440.5" y2="552.5" stroke-width="1.4" opacity="0.65"/><line x1="1785.0" y1="552.5" x2="1790.8" y2="552.9" stroke-width="1.6" opacity="0.61"/><line x1="1704.5" y1="529.9" x2="1709.7" y2="530.5" stroke-width="2.1" opacity="0.56"/><line x1="1485.7" y1="558.6" x2="1488.8" y2="558.3" stroke-width="2.4" opacity="0.77"/><line x1="1817.8" y1="565.8" x2="1827.5" y2="565.1" stroke-width="0.9" opacity="0.73"/><line x1="231.9" y1="575.1" x2="241.5" y2="575.5" stroke-width="0.8" opacity="0.82"/><line x1="2.3" y1="562.4" x2="9.4" y2="563.0" stroke-width="1.9" opacity="0.84"/><line x1="1811.9" y1="542.5" x2="1822.9" y2="542.4" stroke-width="1.4" opacity="0.57"/><line x1="1739.9" y1="562.2" x2="1742.8" y2="562.5" stroke-width="1.0" opacity="0.77"/><line x1="47.6" y1="520.9" x2="53.3" y2="521.6" stroke-width="2.3" opacity="0.63"/><line x1="1754.7" y1="548.9" x2="1766.8" y2="548.9" stroke-width="1.0" opacity="0.79"/><line x1="1757.4" y1="538.3" x2="1767.5" y2="538.6" stroke-width="2.3" opacity="0.60"/><line x1="1633.6" y1="520.1" x2="1644.5" y2="519.6" stroke-width="1.1" opacity="0.64"/><line x1="1715.6" y1="536.4" x2="1724.7" y2="536.6" stroke-width="1.6" opacity="0.54"/><line x1="771.1" y1="552.1" x2="778.9" y2="552.4" stroke-width="2.4" opacity="0.51"/><line x1="1730.8" y1="561.9" x2="1739.7" y2="562.5" stroke-width="1.2" opacity="0.38"/><line x1="1614.9" y1="542.0" x2="1624.4" y2="542.6" stroke-width="1.7" opacity="0.84"/><line x1="1546.0" y1="528.5" x2="1557.1" y2="529.1" stroke-width="1.0" opacity="0.50"/><line x1="1799.0" y1="551.1" x2="1807.6" y2="551.8" stroke-width="1.3" opacity="0.43"/><line x1="1209.6" y1="519.5" x2="1221.0" y2="519.6" stroke-width="1.1" opacity="0.45"/><line x1="50.7" y1="564.2" x2="59.7" y2="564.6" stroke-width="2.2" opacity="0.81"/><line x1="1685.3" y1="561.1" x2="1690.8" y2="560.8" stroke-width="2.2" opacity="0.71"/><line x1="1693.2" y1="549.0" x2="1698.2" y2="548.4" stroke-width="1.3" opacity="0.48"/><line x1="1481.8" y1="532.1" x2="1487.1" y2="531.6" stroke-width="1.6" opacity="0.79"/><line x1="1257.6" y1="553.8" x2="1266.2" y2="554.1" stroke-width="2.0" opacity="0.62"/><line x1="1179.7" y1="530.4" x2="1182.4" y2="530.9" stroke-width="2.3" opacity="0.53"/><line x1="1760.6" y1="537.8" x2="1771.4" y2="537.9" stroke-width="2.3" opacity="0.60"/><line x1="1726.2" y1="576.6" x2="1729.5" y2="576.0" stroke-width="2.3" opacity="0.68"/><line x1="520.0" y1="550.9" x2="523.4" y2="551.5" stroke-width="2.4" opacity="0.50"/><line x1="1794.0" y1="517.5" x2="1796.3" y2="517.8" stroke-width="1.7" opacity="0.84"/><line x1="1189.1" y1="547.9" x2="1192.1" y2="548.0" stroke-width="1.6" opacity="0.44"/><line x1="1549.7" y1="526.2" x2="1560.2" y2="525.6" stroke-width="1.5" opacity="0.59"/><line x1="1567.3" y1="578.2" x2="1576.0" y2="577.9" stroke-width="1.0" opacity="0.50"/><line x1="1340.1" y1="578.4" x2="1353.5" y2="579.1" stroke-width="2.3" opacity="0.78"/><line x1="1766.4" y1="552.6" x2="1776.6" y2="553.3" stroke-width="1.8" opacity="0.66"/><line x1="1771.0" y1="577.3" x2="1773.4" y2="578.0" stroke-width="1.0" opacity="0.78"/><line x1="1695.0" y1="568.6" x2="1705.2" y2="569.0" stroke-width="1.6" opacity="0.64"/><line x1="420.7" y1="517.5" x2="432.2" y2="517.4" stroke-width="2.4" opacity="0.77"/><line x1="1744.1" y1="514.0" x2="1755.3" y2="514.0" stroke-width="1.2" opacity="0.64"/><line x1="1795.3" y1="543.5" x2="1800.1" y2="542.9" stroke-width="2.2" opacity="0.44"/><line x1="1764.7" y1="565.5" x2="1770.7" y2="565.1" stroke-width="1.2" opacity="0.68"/><line x1="107.1" y1="571.8" x2="111.3" y2="571.5" stroke-width="1.2" opacity="0.50"/><line x1="1080.6" y1="566.0" x2="1089.1" y2="565.5" stroke-width="0.9" opacity="0.73"/><line x1="1754.6" y1="579.3" x2="1761.1" y2="580.1" stroke-width="1.4" opacity="0.81"/><line x1="1440.7" y1="565.9" x2="1452.1" y2="565.7" stroke-width="1.3" opacity="0.75"/><line x1="1782.6" y1="562.7" x2="1790.3" y2="562.7" stroke-width="2.1" opacity="0.36"/><line x1="1419.5" y1="574.3" x2="1423.3" y2="575.0" stroke-width="1.1" opacity="0.79"/><line x1="755.1" y1="575.4" x2="758.8" y2="574.9" stroke-width="1.9" opacity="0.82"/><line x1="1795.8" y1="572.1" x2="1806.5" y2="571.9" stroke-width="2.3" opacity="0.58"/><line x1="1732.6" y1="575.9" x2="1735.4" y2="575.2" stroke-width="1.1" opacity="0.52"/><line x1="1718.5" y1="521.2" x2="1726.8" y2="521.6" stroke-width="1.7" opacity="0.63"/><line x1="397.8" y1="518.5" x2="402.5" y2="518.9" stroke-width="0.9" opacity="0.50"/><line x1="913.7" y1="523.7" x2="919.7" y2="524.2" stroke-width="1.7" opacity="0.50"/><line x1="870.6" y1="553.4" x2="882.7" y2="554.1" stroke-width="1.5" opacity="0.45"/><line x1="443.9" y1="564.1" x2="450.7" y2="563.6" stroke-width="0.9" opacity="0.43"/><line x1="627.4" y1="514.3" x2="632.0" y2="514.6" stroke-width="2.1" opacity="0.60"/></g><path d="M 295.3,938.4 L 643.0,938.4 L 643.0,1039.0 L 313.3,1039.0 Q 291.3,1039.0 291.3,1017.0 L 291.3,942.4 Q 291.3,938.4 295.3,938.4 Z" fill="#eef3e5"/><path d="M 854.7,939.0 L 1207.0,939.0 L 1207.0,991.0 L 870.7,991.0 Q 850.7,991.0 850.7,971.0 L 850.7,943.0 Q 850.7,939.0 854.7,939.0 Z" fill="#eef3e5"/><path d="M 1428.4,974.2 L 1775.0,974.2 L 1775.0,1026.0 L 1444.4,1026.0 Q 1424.4,1026.0 1424.4,1006.0 L 1424.4,978.2 Q 1424.4,974.2 1428.4,974.2 Z" fill="#eef3e5"/><path d="M 295.7,1773.6 L 643.0,1773.6 L 643.0,1826.4 L 311.7,1826.4 Q 291.7,1826.4 291.7,1806.4 L 291.7,1777.6 Q 291.7,1773.6 295.7,1773.6 Z" fill="#eef3e5"/><path d="M 1428.4,1773.6 L 1775.0,1773.6 L 1775.0,1826.4 L 1444.4,1826.4 Q 1424.4,1826.4 1424.4,1806.4 L 1424.4,1777.6 Q 1424.4,1773.6 1428.4,1773.6 Z" fill="#eef3e5"/><g stroke="#ecf1e2" stroke-width="8.5" stroke-linecap="round" fill="none"><line x1="1775.5" y1="641" x2="1775.5" y2="2535"/><line x1="1207.3" y1="793" x2="1207.3" y2="1422"/><line x1="1207.3" y1="1634" x2="1207.3" y2="2085"/><line x1="491" y1="1422.4" x2="1775.5" y2="1422.4"/><line x1="75" y1="2085.5" x2="1775.5" y2="2085.5"/><path d="M 75,2538.8 L 1765,2538.8 Q 1775.5,2538.8 1775.5,2528" fill="none"/></g><g stroke="#ecf1e2" stroke-width="8.5" stroke-linecap="round"><line x1="639.0" y1="795.9" x2="639.0" y2="830.4"/><line x1="639.0" y1="869.2" x2="639.0" y2="903.8"/><line x1="639.0" y1="942.6" x2="639.0" y2="977.1"/><line x1="639.0" y1="1016.0" x2="639.0" y2="1050.5"/><line x1="639.0" y1="1089.5" x2="639.0" y2="1124.0"/><line x1="639.0" y1="1162.9" x2="639.0" y2="1197.4"/><line x1="639.0" y1="1236.3" x2="639.0" y2="1270.8"/><line x1="639.0" y1="1309.7" x2="639.0" y2="1344.2"/><line x1="639.0" y1="1383.1" x2="639.0" y2="1417.6"/><line x1="639.0" y1="1634.2" x2="639.0" y2="1668.2"/><line x1="639.0" y1="1703.7" x2="639.0" y2="1737.7"/><line x1="639.0" y1="1773.1" x2="639.0" y2="1807.1"/><line x1="639.0" y1="1842.5" x2="639.0" y2="1876.5"/><line x1="639.0" y1="1911.9" x2="639.0" y2="1945.9"/><line x1="639.0" y1="1981.3" x2="639.0" y2="2015.3"/><line x1="639.0" y1="2050.7" x2="639.0" y2="2085.0"/></g><path d="M 123,1355 L 130.5,1349 L 255,1344.7 L 271.4,1356.4 L 286,1378.4 L 280,1406.3 L 258,1432.8 L 251,1444.5 L 255,1477 L 249.4,1506 L 244,1535 L 237,1546 L 246,1582 L 246.4,1594.2 L 228.8,1592.7 L 192.1,1584 L 162.8,1572.2 L 136.3,1559 L 127.5,1541.4 L 92.3,1519.4 L 82,1491.5 L 73.2,1450.4 L 76.1,1409.3 L 89.4,1399 L 108.4,1374 Z" fill="#f7d0bd" stroke="#f7d0bd" stroke-width="3" stroke-linejoin="round"/><path d="M 290,1404 C 325,1390 360,1374 396,1360 C 398,1359.5 399,1361 399.5,1363 C 415,1415 435,1470 452,1526 C 453,1529 451,1530.5 448,1531 C 410,1536 375,1552 341,1565 C 339,1566 337.5,1565 337,1563 L 288,1409 C 287.5,1407 288,1405 290,1404 Z" fill="#fff" stroke="#f7d0bd" stroke-width="4.4" stroke-linejoin="round"/><g stroke="#f7d0bd" stroke-width="2.6" stroke-linecap="round" fill="none"><path d="M 305,1415 L 313.5,1442.5"/><path d="M 390,1413.5 L 414,1488"/><path d="M 358.5,1396 C 366,1397 373,1400 378,1406" stroke-width="3.2"/><path d="M 358,1512 L 384,1527"/><path d="M 333,1537 L 353,1548.5"/></g><path d="M 237,1546 L 262,1531 L 275,1528 L 292,1515 L 309,1490 L 321,1465 C 330,1458 341,1452 352,1441 L 360,1437 C 366,1448 370,1460 370,1472 C 368,1488 360,1499 350,1505 C 338,1512 326,1519 318,1527 L 304,1550 C 290,1560 268,1572 248,1582 Z" fill="#fff" stroke="#f7d0bd" stroke-width="4.2" stroke-linejoin="round"/><path d="M 338.5,1455 C 346,1450 353,1444 359,1437 C 365,1448 369,1460 370,1472 L 361,1475 C 360,1466 356,1460 350,1457 Z" fill="#f7d0bd"/><path d="M 262,1531 L 270,1560 L 282,1548 Z" fill="#f7d0bd"/><g fill="#fff"><path d="M 123,1404 C 128,1392 140,1385 155,1384 C 165,1384 172,1392 175,1399 C 165,1393 150,1392 140,1396 C 132,1399 127,1403 123,1404 Z"/><path d="M 125,1378 C 128,1368 140,1360 155,1359.5 C 165,1360 172,1366 177,1374 C 168,1370 160,1367 151,1367 C 142,1368 132,1373 125,1378 Z"/><path d="M 113,1386 L 121,1383 L 117,1399 L 111,1397 Z"/><path d="M 188,1357 L 213,1352 L 205,1362 L 196,1360 Z"/><path d="M 206,1366 L 222,1358 L 218,1376 L 210,1380 Z"/><path d="M 213,1421 L 236,1450 L 200,1491 L 201,1462 Z"/><path d="M 150,1462 L 185,1458 L 200,1490 L 176,1506 L 150,1505 L 140,1490 Z"/><path d="M 162,1418 L 168,1418 L 173,1476 L 166,1477 Z"/><path d="M 179,1432 L 184,1432 L 186,1470 L 181,1470 Z"/><path d="M 136,1533 C 145,1522 155,1520 163,1521 C 180,1522 195,1528 199,1536 L 207,1565 C 200,1570 192,1572 185,1572 C 170,1570 160,1566 155,1562 Z"/><path d="M 207,1580 L 224,1547 L 243,1557 L 240,1591 L 221,1587 Z"/><path d="M 233,1359 C 250,1355 268,1360 273,1367 C 279,1375 279,1382 277,1389 C 274,1398 270,1405 265,1412 L 248,1433 C 244,1420 243,1405 243.5,1392 C 240,1380 236,1370 233,1359 Z"/><path d="M 139,1530 L 143,1548 L 136,1545 Z"/></g><g stroke="#fff" stroke-width="2.6" stroke-linecap="round"><path d="M 150,1460 L 110,1447"/><path d="M 150,1460 L 108,1455"/><path d="M 150,1460 L 111,1464"/><path d="M 150,1460 L 116,1472"/><path d="M 150,1460 L 123,1480"/><path d="M 150,1460 L 128,1486"/><path d="M 150,1460 L 103,1490"/><path d="M 150,1460 L 99,1498"/></g><g stroke="#f7d0bd" stroke-width="3" stroke-linecap="round" fill="none"><path d="M 250,1390 C 256,1396 260,1402 262,1410"/><path d="M 258,1372 C 265,1376 270,1384 271,1392"/><path d="M 246,1405 C 248,1415 252,1422 256,1428"/></g><g fill="none" stroke="#84bb26" stroke-width="4.3" stroke-linecap="round" stroke-linejoin="round"><path d="M 609.2,654.5 L 609.2,637 L 616.4,637 L 616.4,654.5"/><path d="M 610.8,642 L 614.8,639.5 M 610.8,648 L 614.8,645 M 610.8,653 L 614.8,650.5" stroke-width="1.6"/><path d="M 612.8,618.5 C 615.8,623 618.4,626 618.4,628.5 A 5.6,5.6 0 0 1 607.2,628.5 C 607.2,626 609.8,623 612.8,618.5 Z" stroke-width="3.2"/><path d="M 612.8,634 L 612.8,627" stroke-width="2.6"/><path d="M 627.1,654.5 L 627.1,637 L 634.3,637 L 634.3,654.5"/><path d="M 628.7,642 L 632.7,639.5 M 628.7,648 L 632.7,645 M 628.7,653 L 632.7,650.5" stroke-width="1.6"/><path d="M 630.7,618.5 C 633.7,623 636.3,626 636.3,628.5 A 5.6,5.6 0 0 1 625.1,628.5 C 625.1,626 627.7,623 630.7,618.5 Z" stroke-width="3.2"/><path d="M 630.7,634 L 630.7,627" stroke-width="2.6"/><path d="M 645.1,654.5 L 645.1,637 L 652.3,637 L 652.3,654.5"/><path d="M 646.7,642 L 650.7,639.5 M 646.7,648 L 650.7,645 M 646.7,653 L 650.7,650.5" stroke-width="1.6"/><path d="M 648.7,618.5 C 651.7,623 654.3,626 654.3,628.5 A 5.6,5.6 0 0 1 643.1,628.5 C 643.1,626 645.7,623 648.7,618.5 Z" stroke-width="3.2"/><path d="M 648.7,634 L 648.7,627" stroke-width="2.6"/><path d="M 662.8,654.5 L 662.8,637 L 670.0,637 L 670.0,654.5"/><path d="M 664.4,642 L 668.4,639.5 M 664.4,648 L 668.4,645 M 664.4,653 L 668.4,650.5" stroke-width="1.6"/><path d="M 666.4,618.5 C 669.4,623 672.0,626 672.0,628.5 A 5.6,5.6 0 0 1 660.8,628.5 C 660.8,626 663.4,623 666.4,618.5 Z" stroke-width="3.2"/><path d="M 666.4,634 L 666.4,627" stroke-width="2.6"/><path d="M 594.5,671 C 591.5,669 590.6,666 590.6,663 Q 590.6,655.5 598,655.5 L 680.5,655.5 Q 687.8,655.5 687.8,663 C 687.8,666 687,669 684,671 Q 677.6,664.0 671.2,671.0 Q 664.8,664.0 658.4,671.0 Q 652.0,664.0 645.6,671.0 Q 639.2,664.0 632.9,671.0 Q 626.5,664.0 620.1,671.0 Q 613.7,664.0 607.3,671.0 Q 600.9,664.0 594.5,671.0"/><path d="M 594.5,671 L 594.5,687 M 684,671 L 684,687"/><path d="M 572.3,703 C 569,701 567.5,698 567.5,695 Q 567.5,687.3 576,687.3 L 702,687.3 Q 710.5,687.3 710.5,695 C 710.5,698 709,701 705.6,703 Q 698.2,696.0 690.8,703.0 Q 683.4,696.0 676.0,703.0 Q 668.6,696.0 661.2,703.0 Q 653.8,696.0 646.4,703.0 Q 638.9,696.0 631.5,703.0 Q 624.1,696.0 616.7,703.0 Q 609.3,696.0 601.9,703.0 Q 594.5,696.0 587.1,703.0 Q 579.7,696.0 572.3,703.0"/><path d="M 572.3,721 Q 579.7,714.0 587.1,721.0 Q 594.5,714.0 601.9,721.0 Q 609.3,714.0 616.7,721.0 Q 624.1,714.0 631.5,721.0 Q 639.0,714.0 646.4,721.0 Q 653.8,714.0 661.2,721.0 Q 668.6,714.0 676.0,721.0 Q 683.4,714.0 690.8,721.0 Q 698.2,714.0 705.6,721.0"/><path d="M 572.3,703 L 572.3,752.5 M 705.6,703 L 705.6,752.5"/><path d="M 574.5,737.6 L 607,737.6 M 615.5,737.6 L 644,737.6 M 655,737.6 L 704,737.6"/><path d="M 563,752.8 L 716,752.8 C 719,752.8 719,756 716,757.5 L 704,760 L 703,763.5 L 575.5,763.5 L 574.5,760 L 562,757.5 C 559,756 559.5,752.8 563,752.8 Z"/></g><g fill="none" stroke="#84bb26" stroke-width="4.4" stroke-linecap="round" stroke-linejoin="round"><path d="M 1472.4,702 C 1460,700.5 1449,698 1445.6,693.4 C 1451,681 1455.3,668 1455.3,651 C 1455.3,632 1472,619.6 1493.7,619.6 C 1515.4,619.6 1531.6,632 1531.6,651 C 1531.6,668 1536.5,681 1542,693.4 C 1538.5,698 1527.5,700.5 1514.5,702"/><path d="M 1464.5,680 C 1467,697 1479,710 1493.7,710 C 1508.5,710 1520,697 1522.8,680"/><path d="M 1464.5,680 L 1460,678 M 1522.8,680 L 1527,678"/><path d="M 1456.8,665.3 C 1471,659 1480,650 1479.7,636.8 C 1490,651 1508,662 1530,664.8"/><path d="M 1478.5,671 L 1486,671 M 1501.5,671 L 1509,671"/><path d="M 1466.7,709 C 1473,718 1483,721.6 1493.7,721.6 C 1504.5,721.6 1514.5,718 1520.7,709"/><path d="M 1466.7,708.5 C 1448,713 1430,724 1430,749.5 L 1557.4,749.5 C 1557.4,724 1540,713 1520.7,708.5"/></g><g fill="none" stroke="#84bb26" stroke-width="5" stroke-linecap="butt" stroke-linejoin="miter"><path d="M 684.3,1474.3 L 639.1,1453.9 L 592,1474.6 L 568.4,1527.9 L 579.8,1527.9 L 579.8,1558.5"/><path d="M 579.8,1584.5 L 579.8,1595.7 L 697.8,1595.7 L 697.8,1527.9 L 710.5,1527.9 L 694.3,1492.8"/><path d="M 623.8,1521 L 623.8,1483.8 L 654.4,1483.8 L 654.4,1497.8"/><path d="M 628.2,1546.2 L 679.4,1546.2 L 679.4,1595.7 M 598.7,1569.3 L 598.7,1595.7"/><path d="M 601,1595.7 L 679.4,1546.2 M 614.6,1556.6 L 679.4,1595.7"/></g><path d="M 559.2,1588.8 L 712.6,1464.3" stroke="#fff" stroke-width="13" stroke-linecap="round"/><path d="M 559.2,1588.8 L 712.6,1464.3" stroke="#84bb26" stroke-width="5" stroke-linecap="round"/><g fill="none" stroke="#84bb26" stroke-width="4.6" stroke-linecap="round" stroke-linejoin="round"><rect x="1450.7" y="1460.6" width="94.9" height="128.7"/><path d="M 1461.5,1477.8 L 1484.6,1477.8 M 1473,1539.4 L 1518,1539.4 M 1478,1556.3 L 1512,1556.3 M 1490,1567.7 L 1500.5,1567.7"/><path d="M 1518,1492 L 1513.8,1517 L 1523.6,1511.5 L 1533.4,1517 L 1529.2,1492" stroke-width="3.6"/><polygon points="1533.8,1483.2 1531.5,1486.5 1530.8,1490.4 1526.9,1491.1 1523.6,1493.4 1520.3,1491.1 1516.4,1490.4 1515.7,1486.5 1513.4,1483.2 1515.7,1479.9 1516.4,1476.0 1520.3,1475.3 1523.6,1473.0 1526.9,1475.3 1530.8,1476.0 1531.5,1479.9" stroke-width="3.4"/></g><path d="M 275.5,2119 A 168,168 0 0 1 325.5,2445.5 L 275.5,2287 Z" fill="#84bb26" stroke="#84bb26" stroke-width="4" stroke-linejoin="round"/><path d="M 247.5,2289 L 93,2239.5 A 162,162 0 0 0 197.5,2443.5 Z" fill="#e85d10" stroke="#e85d10" stroke-width="4" stroke-linejoin="round"/><path d="M 264.5,2313 L 217,2445 A 142,142 0 0 0 310,2445 Z" fill="#9d9d9d" stroke="#9d9d9d" stroke-width="4" stroke-linejoin="round"/><line x1="440" y1="2297.6" x2="491.2" y2="2297.6" stroke="#84bb26" stroke-width="6.5"/><path d="M 700,2297.3 L 766,2297.3 M 752,2282.5 L 766.5,2297.3 L 752,2312.2" fill="none" stroke="#84bb26" stroke-width="5"/></svg><div class="y25"></div><svg class="l" width="1846" height="2560" viewBox="0 0 1846 2560"><rect x="1566" y="52.7" width="9" height="158.7" fill="#84bb26"/></svg><div class="t" style="left:382.98px;top:42.72px;font-size:81.09px;line-height:81.09px;font-weight:700;color:#151515;transform:scaleX(0.5795);letter-spacing:3.649px;word-spacing:17.029px;-webkit-text-stroke:3.65px #151515;">OBSERVATOIRE DES ACCOMPAGNEMENTS</div><div class="t" style="left:344.38px;top:132.89px;font-size:80.54px;line-height:80.54px;font-weight:700;color:#151515;transform:scaleX(0.5861);letter-spacing:3.624px;word-spacing:16.914px;-webkit-text-stroke:3.62px #151515;">À L’INSTALLATION ET À LA TRANSMISSION</div><div class="t" style="left:1610.86px;top:91.07px;font-size:86.58px;line-height:86.58px;font-weight:700;color:#e85d10;transform:scaleX(0.7105);-webkit-text-stroke:1.73px #e85d10;">2025</div><div class="t" style="left:81.92px;top:108.38px;font-size:78.37px;line-height:78.37px;font-weight:700;color:#ffffff;transform:scaleX(0.4940);letter-spacing:3.527px;word-spacing:16.457px;-webkit-text-stroke:3.53px #ffffff;">CIVAM</div><div class="t" style="left:82.89px;top:193.57px;font-size:20.00px;line-height:20.00px;font-weight:400;color:#ffffff;transform:scaleX(0.7101);">CAMPAGNES</div><div class="t" style="left:83.53px;top:211.18px;font-size:19.28px;line-height:19.28px;font-weight:400;color:#ffffff;transform:scaleX(0.7377);">VIVANTES</div><div class="t" style="left:71.53px;top:342.14px;font-size:26.52px;line-height:26.52px;font-weight:400;color:#1e1e1e;transform:scaleX(0.9778);">Étude menée sur 285 porteurs et porteuses de projets</div><div class="t" style="left:72.59px;top:374.34px;font-size:26.52px;line-height:26.52px;font-weight:400;color:#1e1e1e;transform:scaleX(0.9521);">et 65 transmetteur·ices accompagné·es par les CIVAM.</div><div class="t" style="left:72.30px;top:407.74px;font-size:26.52px;line-height:26.52px;font-weight:400;color:#1e1e1e;transform:scaleX(0.9822);">Chiffres comparés aux résultats nationaux officiels de</div><div class="t" style="left:71.84px;top:440.74px;font-size:26.52px;line-height:26.52px;font-weight:400;color:#1e1e1e;transform:scaleX(1.0216);">l’installation-transmission.</div><div class="t" style="left:849.97px;top:363.88px;font-size:34.72px;line-height:34.72px;font-weight:700;color:#86bd30;transform:scaleX(0.6482);letter-spacing:0.694px;word-spacing:8.681px;-webkit-text-stroke:1.04px #86bd30;">LE SAVIEZ-VOUS ?</div><div class="t" style="left:849.08px;top:413.05px;font-size:27.10px;line-height:27.10px;font-weight:400;color:#86bd30;transform:scaleX(0.9926);">Un parcours d’installation</div><div class="t" style="left:850.07px;top:446.05px;font-size:27.10px;line-height:27.10px;font-weight:400;color:#86bd30;transform:scaleX(0.9534);">dure en moyenne 3 ans.</div><div class="t" style="left:1371.74px;top:280.66px;font-size:30.87px;line-height:30.87px;font-weight:700;color:#85bb2b;transform:scaleX(0.8568);">GLOSSAIRE</div><div class="t" style="left:1372.93px;top:329.22px;font-size:26.67px;line-height:26.67px;font-weight:400;color:#1e1e1e;transform:scaleX(0.9650);"><span style="font-weight:700">DJA : </span>Dotation Jeunes Agriculteurs</div><div class="t" style="left:1372.95px;top:362.92px;font-size:26.67px;line-height:26.67px;font-weight:400;color:#1e1e1e;transform:scaleX(0.9545);"><span style="font-weight:700">IMA : </span>Issu du Milieu Agricole</div><div class="t" style="left:1372.94px;top:396.32px;font-size:26.67px;line-height:26.67px;font-weight:400;color:#1e1e1e;transform:scaleX(0.9551);"><span style="font-weight:700">NIMA : </span>Non Issu du Milieu Agricole</div><div class="t" style="left:1372.93px;top:429.72px;font-size:26.67px;line-height:26.67px;font-weight:400;color:#1e1e1e;transform:scaleX(0.9651);"><span style="font-weight:700">PAI : </span>Point Accueil Installation des</div><div class="t" style="left:1371.53px;top:463.42px;font-size:26.67px;line-height:26.67px;font-weight:400;color:#1e1e1e;transform:scaleX(1.0065);">chambres d’agriculture</div><div class="t" style="left:448.37px;top:528.71px;font-size:40.94px;line-height:40.94px;font-weight:700;color:#ffffff;transform:scaleX(0.9309);letter-spacing:1.433px;-webkit-text-stroke:2.25px #ffffff;">PORTRAITS DES PORTEUR·EUSES DE PROJETS</div><div class="t" style="left:167.51px;top:783.40px;font-size:120.68px;line-height:120.68px;font-weight:700;color:#e85d10;transform:scaleX(0.7142);-webkit-text-stroke:2.41px #e85d10;">37</div><div class="t" style="left:291.96px;top:797.05px;font-size:40.56px;line-height:40.56px;font-weight:700;color:#333333;transform:scaleX(0.5954);letter-spacing:0.811px;word-spacing:10.139px;-webkit-text-stroke:1.22px #333333;"><span style="color:#e85d10;-webkit-text-stroke-color:#e85d10">ANS</span> DE MOYENNE</div><div class="t" style="left:290.50px;top:837.73px;font-size:40.00px;line-height:40.00px;font-weight:700;color:#333333;transform:scaleX(0.6488);letter-spacing:0.800px;word-spacing:10.000px;-webkit-text-stroke:1.20px #333333;">D’ÂGE <span style="color:#cdcdcd;-webkit-text-stroke-color:#cdcdcd">(38 EN 2024)</span></div><div class="t" style="left:325.55px;top:946.37px;font-size:39.72px;line-height:39.72px;font-weight:700;color:#7cb82a;transform:scaleX(0.6287);letter-spacing:0.794px;word-spacing:9.931px;-webkit-text-stroke:1.19px #7cb82a;">32,7 ANS EN POINTS</div><div class="t" style="left:311.76px;top:991.73px;font-size:40.69px;line-height:40.69px;font-weight:700;color:#7cb82a;transform:scaleX(0.5925);letter-spacing:0.814px;word-spacing:10.174px;-webkit-text-stroke:1.22px #7cb82a;">ACCUEIL INSTALLATION</div><div class="t" style="left:272.13px;top:1069.84px;font-size:32.90px;line-height:32.90px;font-weight:700;color:#e85d10;transform:scaleX(0.6406);letter-spacing:1.974px;word-spacing:6.580px;">PLUS ÂGÉ.ES,</div><div class="t" style="left:181.98px;top:1107.24px;font-size:32.90px;line-height:32.90px;font-weight:700;color:#e85d10;transform:scaleX(0.6302);letter-spacing:1.974px;word-spacing:6.580px;">SOUVENT EN RECONVERSION</div><div class="t" style="left:765.66px;top:784.33px;font-size:119.73px;line-height:119.73px;font-weight:700;color:#e85d10;transform:scaleX(0.6814);-webkit-text-stroke:2.39px #e85d10;">24<svg viewBox="0 0 57.8 86" preserveAspectRatio="none" style="display:inline-block;vertical-align:baseline;width:100.57px;height:83.81px;margin-left:2.99px;margin-right:2.89px;overflow:visible"><path d="M 0.00,22.40 a 10.00,17.90 0 1 0 20.00,0 a 10.00,17.90 0 1 0 -20.00,0 Z M 7.20,22.40 a 2.80,11.50 0 1 0 5.60,0 a 2.80,11.50 0 1 0 -5.60,0 Z M 31,4.5 L 38.1,4.5 L 26.5,85.6 L 18.2,85.6 Z M 38.00,66.10 a 9.90,18.70 0 1 0 19.80,0 a 9.90,18.70 0 1 0 -19.80,0 Z M 45.00,66.10 a 2.90,12.00 0 1 0 5.80,0 a 2.90,12.00 0 1 0 -5.80,0 Z" fill="#e85d10" fill-rule="evenodd"/></svg></div><div class="t" style="left:954.86px;top:797.43px;font-size:40.00px;line-height:40.00px;font-weight:700;color:#333333;transform:scaleX(0.6207);letter-spacing:0.800px;word-spacing:10.000px;-webkit-text-stroke:1.20px #333333;"><span style="color:#e85d10;-webkit-text-stroke-color:#e85d10">PLUS</span> DE 40 ANS</div><div class="t" style="left:955.15px;top:837.73px;font-size:40.00px;line-height:40.00px;font-weight:700;color:#cdcdcd;transform:scaleX(0.6788);letter-spacing:0.800px;word-spacing:10.000px;-webkit-text-stroke:1.20px #cdcdcd;">(31<svg viewBox="0 0 57.8 86" preserveAspectRatio="none" style="display:inline-block;vertical-align:baseline;width:33.60px;height:28.00px;margin-left:1.00px;margin-right:1.77px;overflow:visible"><path d="M 0.00,22.40 a 10.00,17.90 0 1 0 20.00,0 a 10.00,17.90 0 1 0 -20.00,0 Z M 7.20,22.40 a 2.80,11.50 0 1 0 5.60,0 a 2.80,11.50 0 1 0 -5.60,0 Z M 31,4.5 L 38.1,4.5 L 26.5,85.6 L 18.2,85.6 Z M 38.00,66.10 a 9.90,18.70 0 1 0 19.80,0 a 9.90,18.70 0 1 0 -19.80,0 Z M 45.00,66.10 a 2.90,12.00 0 1 0 5.80,0 a 2.90,12.00 0 1 0 -5.80,0 Z" fill="#cdcdcd" fill-rule="evenodd"/></svg> EN 2024)</div><div class="t" style="left:932.65px;top:947.41px;font-size:38.75px;line-height:38.75px;font-weight:700;color:#7cb82a;transform:scaleX(0.6581);letter-spacing:0.775px;word-spacing:9.688px;-webkit-text-stroke:1.16px #7cb82a;">19,2<svg viewBox="0 0 57.8 86" preserveAspectRatio="none" style="display:inline-block;vertical-align:baseline;width:32.55px;height:27.13px;margin-left:0.97px;margin-right:1.71px;overflow:visible"><path d="M 0.00,22.40 a 10.00,17.90 0 1 0 20.00,0 a 10.00,17.90 0 1 0 -20.00,0 Z M 7.20,22.40 a 2.80,11.50 0 1 0 5.60,0 a 2.80,11.50 0 1 0 -5.60,0 Z M 31,4.5 L 38.1,4.5 L 26.5,85.6 L 18.2,85.6 Z M 38.00,66.10 a 9.90,18.70 0 1 0 19.80,0 a 9.90,18.70 0 1 0 -19.80,0 Z M 45.00,66.10 a 2.90,12.00 0 1 0 5.80,0 a 2.90,12.00 0 1 0 -5.80,0 Z" fill="#7cb82a" fill-rule="evenodd"/></svg> EN PAI</div><div class="t" style="left:761.84px;top:1027.07px;font-size:32.75px;line-height:32.75px;font-weight:700;color:#e85d10;transform:scaleX(0.6367);letter-spacing:1.965px;word-spacing:6.551px;">NON ÉLIGIBLES AUX AIDES</div><div class="t" style="left:761.99px;top:1063.64px;font-size:32.90px;line-height:32.90px;font-weight:700;color:#e85d10;transform:scaleX(0.6249);letter-spacing:1.974px;word-spacing:6.580px;">JEUNES AGRICULTEURS OU</div><div class="t" style="left:770.97px;top:1101.22px;font-size:33.04px;line-height:33.04px;font-weight:700;color:#e85d10;transform:scaleX(0.6368);letter-spacing:1.983px;word-spacing:6.609px;">AUX EXONÉRATIONS MSA</div><div class="t" style="left:1270.47px;top:784.32px;font-size:120.55px;line-height:120.55px;font-weight:700;color:#e85d10;transform:scaleX(0.6780);-webkit-text-stroke:2.41px #e85d10;">52<svg viewBox="0 0 57.8 86" preserveAspectRatio="none" style="display:inline-block;vertical-align:baseline;width:101.26px;height:84.38px;margin-left:3.01px;margin-right:2.91px;overflow:visible"><path d="M 0.00,22.40 a 10.00,17.90 0 1 0 20.00,0 a 10.00,17.90 0 1 0 -20.00,0 Z M 7.20,22.40 a 2.80,11.50 0 1 0 5.60,0 a 2.80,11.50 0 1 0 -5.60,0 Z M 31,4.5 L 38.1,4.5 L 26.5,85.6 L 18.2,85.6 Z M 38.00,66.10 a 9.90,18.70 0 1 0 19.80,0 a 9.90,18.70 0 1 0 -19.80,0 Z M 45.00,66.10 a 2.90,12.00 0 1 0 5.80,0 a 2.90,12.00 0 1 0 -5.80,0 Z" fill="#e85d10" fill-rule="evenodd"/></svg></div><div class="t" style="left:1463.66px;top:797.35px;font-size:39.86px;line-height:39.86px;font-weight:700;color:#333333;transform:scaleX(0.6227);letter-spacing:0.797px;word-spacing:9.965px;-webkit-text-stroke:1.20px #333333;">DE FEMMES</div><div class="t" style="left:1464.66px;top:838.15px;font-size:38.47px;line-height:38.47px;font-weight:700;color:#333333;transform:scaleX(0.6224);letter-spacing:0.769px;word-spacing:9.618px;-webkit-text-stroke:1.15px #333333;">AU DÉMARRAGE DE</div><div class="t" style="left:1463.66px;top:877.55px;font-size:39.86px;line-height:39.86px;font-weight:700;color:#333333;transform:scaleX(0.6231);letter-spacing:0.797px;word-spacing:9.965px;-webkit-text-stroke:1.20px #333333;">L’ACCOMPAGNEMENT</div><div class="t" style="left:1463.35px;top:918.33px;font-size:39.31px;line-height:39.31px;font-weight:700;color:#cdcdcd;transform:scaleX(0.6941);letter-spacing:0.786px;word-spacing:9.826px;-webkit-text-stroke:1.18px #cdcdcd;">(52<svg viewBox="0 0 57.8 86" preserveAspectRatio="none" style="display:inline-block;vertical-align:baseline;width:33.02px;height:27.51px;margin-left:0.98px;margin-right:1.73px;overflow:visible"><path d="M 0.00,22.40 a 10.00,17.90 0 1 0 20.00,0 a 10.00,17.90 0 1 0 -20.00,0 Z M 7.20,22.40 a 2.80,11.50 0 1 0 5.60,0 a 2.80,11.50 0 1 0 -5.60,0 Z M 31,4.5 L 38.1,4.5 L 26.5,85.6 L 18.2,85.6 Z M 38.00,66.10 a 9.90,18.70 0 1 0 19.80,0 a 9.90,18.70 0 1 0 -19.80,0 Z M 45.00,66.10 a 2.90,12.00 0 1 0 5.80,0 a 2.90,12.00 0 1 0 -5.80,0 Z" fill="#cdcdcd" fill-rule="evenodd"/></svg> EN 2024)</div><div class="t" style="left:1505.34px;top:981.73px;font-size:39.31px;line-height:39.31px;font-weight:700;color:#7cb82a;transform:scaleX(0.6496);letter-spacing:0.786px;word-spacing:9.826px;-webkit-text-stroke:1.18px #7cb82a;">37,7<svg viewBox="0 0 57.8 86" preserveAspectRatio="none" style="display:inline-block;vertical-align:baseline;width:33.02px;height:27.51px;margin-left:0.98px;margin-right:1.73px;overflow:visible"><path d="M 0.00,22.40 a 10.00,17.90 0 1 0 20.00,0 a 10.00,17.90 0 1 0 -20.00,0 Z M 7.20,22.40 a 2.80,11.50 0 1 0 5.60,0 a 2.80,11.50 0 1 0 -5.60,0 Z M 31,4.5 L 38.1,4.5 L 26.5,85.6 L 18.2,85.6 Z M 38.00,66.10 a 9.90,18.70 0 1 0 19.80,0 a 9.90,18.70 0 1 0 -19.80,0 Z M 45.00,66.10 a 2.90,12.00 0 1 0 5.80,0 a 2.90,12.00 0 1 0 -5.80,0 Z" fill="#7cb82a" fill-rule="evenodd"/></svg> EN PAI</div><div class="t" style="left:1284.02px;top:1046.58px;font-size:79.86px;line-height:79.86px;font-weight:700;color:#e85d10;transform:scaleX(0.7001);-webkit-text-stroke:1.60px #e85d10;">46<svg viewBox="0 0 57.8 86" preserveAspectRatio="none" style="display:inline-block;vertical-align:baseline;width:67.08px;height:55.90px;margin-left:2.00px;margin-right:1.93px;overflow:visible"><path d="M 0.00,22.40 a 10.00,17.90 0 1 0 20.00,0 a 10.00,17.90 0 1 0 -20.00,0 Z M 7.20,22.40 a 2.80,11.50 0 1 0 5.60,0 a 2.80,11.50 0 1 0 -5.60,0 Z M 31,4.5 L 38.1,4.5 L 26.5,85.6 L 18.2,85.6 Z M 38.00,66.10 a 9.90,18.70 0 1 0 19.80,0 a 9.90,18.70 0 1 0 -19.80,0 Z M 45.00,66.10 a 2.90,12.00 0 1 0 5.80,0 a 2.90,12.00 0 1 0 -5.80,0 Z" fill="#e85d10" fill-rule="evenodd"/></svg></div><div class="t" style="left:1413.76px;top:1056.55px;font-size:29.31px;line-height:29.31px;font-weight:700;color:#333333;transform:scaleX(0.6441);letter-spacing:0.586px;word-spacing:7.326px;-webkit-text-stroke:0.88px #333333;">DE FEMMES INSTALLÉES</div><div class="t" style="left:1414.50px;top:1088.55px;font-size:29.31px;line-height:29.31px;font-weight:700;color:#333333;transform:scaleX(0.6725);letter-spacing:0.586px;word-spacing:7.326px;-webkit-text-stroke:0.88px #333333;">APRÈS 1 AN <span style="color:#cdcdcd;-webkit-text-stroke-color:#cdcdcd">(68<svg viewBox="0 0 57.8 86" preserveAspectRatio="none" style="display:inline-block;vertical-align:baseline;width:24.62px;height:20.51px;margin-left:0.73px;margin-right:1.29px;overflow:visible"><path d="M 0.00,22.40 a 10.00,17.90 0 1 0 20.00,0 a 10.00,17.90 0 1 0 -20.00,0 Z M 7.20,22.40 a 2.80,11.50 0 1 0 5.60,0 a 2.80,11.50 0 1 0 -5.60,0 Z M 31,4.5 L 38.1,4.5 L 26.5,85.6 L 18.2,85.6 Z M 38.00,66.10 a 9.90,18.70 0 1 0 19.80,0 a 9.90,18.70 0 1 0 -19.80,0 Z M 45.00,66.10 a 2.90,12.00 0 1 0 5.80,0 a 2.90,12.00 0 1 0 -5.80,0 Z" fill="#cdcdcd" fill-rule="evenodd"/></svg> EN 2024)</span></div><div class="t" style="left:1386.22px;top:1144.46px;font-size:34.06px;line-height:34.06px;font-weight:700;color:#e85d10;transform:scaleX(0.6220);letter-spacing:2.043px;word-spacing:6.812px;">PLUS DE FEMMES</div><div class="t" style="left:134.46px;top:1619.38px;font-size:120.14px;line-height:120.14px;font-weight:700;color:#e85d10;transform:scaleX(0.6820);-webkit-text-stroke:2.40px #e85d10;">84<svg viewBox="0 0 57.8 86" preserveAspectRatio="none" style="display:inline-block;vertical-align:baseline;width:100.92px;height:84.10px;margin-left:3.00px;margin-right:2.90px;overflow:visible"><path d="M 0.00,22.40 a 10.00,17.90 0 1 0 20.00,0 a 10.00,17.90 0 1 0 -20.00,0 Z M 7.20,22.40 a 2.80,11.50 0 1 0 5.60,0 a 2.80,11.50 0 1 0 -5.60,0 Z M 31,4.5 L 38.1,4.5 L 26.5,85.6 L 18.2,85.6 Z M 38.00,66.10 a 9.90,18.70 0 1 0 19.80,0 a 9.90,18.70 0 1 0 -19.80,0 Z M 45.00,66.10 a 2.90,12.00 0 1 0 5.80,0 a 2.90,12.00 0 1 0 -5.80,0 Z" fill="#e85d10" fill-rule="evenodd"/></svg></div><div class="t" style="left:333.65px;top:1636.83px;font-size:39.31px;line-height:39.31px;font-weight:700;color:#333333;transform:scaleX(0.6379);letter-spacing:0.786px;word-spacing:9.826px;-webkit-text-stroke:1.18px #333333;">NON ISSUS DU</div><div class="t" style="left:333.68px;top:1676.95px;font-size:39.86px;line-height:39.86px;font-weight:700;color:#333333;transform:scaleX(0.6130);letter-spacing:0.797px;word-spacing:9.965px;-webkit-text-stroke:1.20px #333333;">MILIEU AGRICOLE</div><div class="t" style="left:333.35px;top:1717.55px;font-size:39.86px;line-height:39.86px;font-weight:700;color:#cdcdcd;transform:scaleX(0.6845);letter-spacing:0.797px;word-spacing:9.965px;-webkit-text-stroke:1.20px #cdcdcd;">(70<svg viewBox="0 0 57.8 86" preserveAspectRatio="none" style="display:inline-block;vertical-align:baseline;width:33.48px;height:27.90px;margin-left:1.00px;margin-right:1.76px;overflow:visible"><path d="M 0.00,22.40 a 10.00,17.90 0 1 0 20.00,0 a 10.00,17.90 0 1 0 -20.00,0 Z M 7.20,22.40 a 2.80,11.50 0 1 0 5.60,0 a 2.80,11.50 0 1 0 -5.60,0 Z M 31,4.5 L 38.1,4.5 L 26.5,85.6 L 18.2,85.6 Z M 38.00,66.10 a 9.90,18.70 0 1 0 19.80,0 a 9.90,18.70 0 1 0 -19.80,0 Z M 45.00,66.10 a 2.90,12.00 0 1 0 5.80,0 a 2.90,12.00 0 1 0 -5.80,0 Z" fill="#cdcdcd" fill-rule="evenodd"/></svg> EN 2024)</div><div class="t" style="left:385.90px;top:1780.10px;font-size:41.67px;line-height:41.67px;font-weight:700;color:#7cb82a;transform:scaleX(0.6019);letter-spacing:0.833px;word-spacing:10.417px;-webkit-text-stroke:1.25px #7cb82a;">62<svg viewBox="0 0 57.8 86" preserveAspectRatio="none" style="display:inline-block;vertical-align:baseline;width:35.00px;height:29.17px;margin-left:1.04px;margin-right:1.84px;overflow:visible"><path d="M 0.00,22.40 a 10.00,17.90 0 1 0 20.00,0 a 10.00,17.90 0 1 0 -20.00,0 Z M 7.20,22.40 a 2.80,11.50 0 1 0 5.60,0 a 2.80,11.50 0 1 0 -5.60,0 Z M 31,4.5 L 38.1,4.5 L 26.5,85.6 L 18.2,85.6 Z M 38.00,66.10 a 9.90,18.70 0 1 0 19.80,0 a 9.90,18.70 0 1 0 -19.80,0 Z M 45.00,66.10 a 2.90,12.00 0 1 0 5.80,0 a 2.90,12.00 0 1 0 -5.80,0 Z" fill="#7cb82a" fill-rule="evenodd"/></svg> EN PAI</div><div class="t" style="left:134.86px;top:1858.62px;font-size:34.35px;line-height:34.35px;font-weight:700;color:#e85d10;transform:scaleX(0.6041);letter-spacing:2.061px;word-spacing:6.870px;">UNE MAJORITÉ DES PORTEUR.EUSES</div><div class="t" style="left:189.26px;top:1895.99px;font-size:33.91px;line-height:33.91px;font-weight:700;color:#e85d10;transform:scaleX(0.6076);letter-spacing:2.035px;word-spacing:6.783px;">DE PROJETS SANS CAPITAL</div><div class="t" style="left:182.65px;top:1932.76px;font-size:35.36px;line-height:35.36px;font-weight:700;color:#e85d10;transform:scaleX(0.5861);letter-spacing:2.122px;word-spacing:7.072px;">NI SOCIALISATION AGRICOLE</div><div class="t" style="left:727.77px;top:1619.18px;font-size:120.82px;line-height:120.82px;font-weight:700;color:#e85d10;transform:scaleX(0.6731);-webkit-text-stroke:2.42px #e85d10;">94<svg viewBox="0 0 57.8 86" preserveAspectRatio="none" style="display:inline-block;vertical-align:baseline;width:101.49px;height:84.58px;margin-left:3.02px;margin-right:2.92px;overflow:visible"><path d="M 0.00,22.40 a 10.00,17.90 0 1 0 20.00,0 a 10.00,17.90 0 1 0 -20.00,0 Z M 7.20,22.40 a 2.80,11.50 0 1 0 5.60,0 a 2.80,11.50 0 1 0 -5.60,0 Z M 31,4.5 L 38.1,4.5 L 26.5,85.6 L 18.2,85.6 Z M 38.00,66.10 a 9.90,18.70 0 1 0 19.80,0 a 9.90,18.70 0 1 0 -19.80,0 Z M 45.00,66.10 a 2.90,12.00 0 1 0 5.80,0 a 2.90,12.00 0 1 0 -5.80,0 Z" fill="#e85d10" fill-rule="evenodd"/></svg></div><div class="t" style="left:923.79px;top:1633.45px;font-size:39.86px;line-height:39.86px;font-weight:700;color:#333333;transform:scaleX(0.6059);letter-spacing:0.797px;word-spacing:9.965px;-webkit-text-stroke:1.20px #333333;">HORS CADRE</div><div class="t" style="left:923.73px;top:1673.57px;font-size:39.72px;line-height:39.72px;font-weight:700;color:#333333;transform:scaleX(0.6411);letter-spacing:0.794px;word-spacing:9.931px;-webkit-text-stroke:1.19px #333333;">FAMILIAL</div><div class="t" style="left:924.05px;top:1713.83px;font-size:40.69px;line-height:40.69px;font-weight:700;color:#cdcdcd;transform:scaleX(0.6672);letter-spacing:0.814px;word-spacing:10.174px;-webkit-text-stroke:1.22px #cdcdcd;">(93<svg viewBox="0 0 57.8 86" preserveAspectRatio="none" style="display:inline-block;vertical-align:baseline;width:34.18px;height:28.49px;margin-left:1.02px;margin-right:1.80px;overflow:visible"><path d="M 0.00,22.40 a 10.00,17.90 0 1 0 20.00,0 a 10.00,17.90 0 1 0 -20.00,0 Z M 7.20,22.40 a 2.80,11.50 0 1 0 5.60,0 a 2.80,11.50 0 1 0 -5.60,0 Z M 31,4.5 L 38.1,4.5 L 26.5,85.6 L 18.2,85.6 Z M 38.00,66.10 a 9.90,18.70 0 1 0 19.80,0 a 9.90,18.70 0 1 0 -19.80,0 Z M 45.00,66.10 a 2.90,12.00 0 1 0 5.80,0 a 2.90,12.00 0 1 0 -5.80,0 Z" fill="#cdcdcd" fill-rule="evenodd"/></svg> EN 2024)</div><div class="t" style="left:728.86px;top:1773.95px;font-size:31.39px;line-height:31.39px;font-weight:700;color:#333333;transform:scaleX(0.6003);letter-spacing:0.628px;word-spacing:7.847px;-webkit-text-stroke:0.94px #333333;">DONT <span style="color:#e85d10;-webkit-text-stroke-color:#e85d10">8<svg viewBox="0 0 57.8 86" preserveAspectRatio="none" style="display:inline-block;vertical-align:baseline;width:26.37px;height:21.97px;margin-left:0.78px;margin-right:1.39px;overflow:visible"><path d="M 0.00,22.40 a 10.00,17.90 0 1 0 20.00,0 a 10.00,17.90 0 1 0 -20.00,0 Z M 7.20,22.40 a 2.80,11.50 0 1 0 5.60,0 a 2.80,11.50 0 1 0 -5.60,0 Z M 31,4.5 L 38.1,4.5 L 26.5,85.6 L 18.2,85.6 Z M 38.00,66.10 a 9.90,18.70 0 1 0 19.80,0 a 9.90,18.70 0 1 0 -19.80,0 Z M 45.00,66.10 a 2.90,12.00 0 1 0 5.80,0 a 2.90,12.00 0 1 0 -5.80,0 Z" fill="#e85d10" fill-rule="evenodd"/></svg></span> ISSUS DU MILIEU AGRICOLE</div><div class="t" style="left:672.64px;top:1819.11px;font-size:35.65px;line-height:35.65px;font-weight:700;color:#e85d10;transform:scaleX(0.5885);letter-spacing:2.139px;word-spacing:7.130px;">DES DISPOSITIFS ACTUELS CENTRÉS SUR</div><div class="t" style="left:666.85px;top:1855.78px;font-size:36.52px;line-height:36.52px;font-weight:700;color:#e85d10;transform:scaleX(0.5685);letter-spacing:2.191px;word-spacing:7.304px;">L’INSTALLATION DANS LE CADRE FAMILIAL</div><div class="t" style="left:1278.53px;top:1623.13px;font-size:121.92px;line-height:121.92px;font-weight:700;color:#e85d10;transform:scaleX(0.6751);-webkit-text-stroke:2.44px #e85d10;">70<svg viewBox="0 0 57.8 86" preserveAspectRatio="none" style="display:inline-block;vertical-align:baseline;width:102.41px;height:85.34px;margin-left:3.05px;margin-right:2.94px;overflow:visible"><path d="M 0.00,22.40 a 10.00,17.90 0 1 0 20.00,0 a 10.00,17.90 0 1 0 -20.00,0 Z M 7.20,22.40 a 2.80,11.50 0 1 0 5.60,0 a 2.80,11.50 0 1 0 -5.60,0 Z M 31,4.5 L 38.1,4.5 L 26.5,85.6 L 18.2,85.6 Z M 38.00,66.10 a 9.90,18.70 0 1 0 19.80,0 a 9.90,18.70 0 1 0 -19.80,0 Z M 45.00,66.10 a 2.90,12.00 0 1 0 5.80,0 a 2.90,12.00 0 1 0 -5.80,0 Z" fill="#e85d10" fill-rule="evenodd"/></svg></div><div class="t" style="left:1474.57px;top:1636.73px;font-size:38.61px;line-height:38.61px;font-weight:700;color:#333333;transform:scaleX(0.6370);letter-spacing:0.772px;word-spacing:9.653px;-webkit-text-stroke:1.16px #333333;">DIPLÔMÉ.ES EN</div><div class="t" style="left:1475.56px;top:1676.31px;font-size:39.44px;line-height:39.44px;font-weight:700;color:#333333;transform:scaleX(0.6102);letter-spacing:0.789px;word-spacing:9.861px;-webkit-text-stroke:1.18px #333333;">AGRICULTURE</div><div class="t" style="left:1474.85px;top:1716.55px;font-size:39.86px;line-height:39.86px;font-weight:700;color:#cdcdcd;transform:scaleX(0.6811);letter-spacing:0.797px;word-spacing:9.965px;-webkit-text-stroke:1.20px #cdcdcd;">(93<svg viewBox="0 0 57.8 86" preserveAspectRatio="none" style="display:inline-block;vertical-align:baseline;width:33.48px;height:27.90px;margin-left:1.00px;margin-right:1.76px;overflow:visible"><path d="M 0.00,22.40 a 10.00,17.90 0 1 0 20.00,0 a 10.00,17.90 0 1 0 -20.00,0 Z M 7.20,22.40 a 2.80,11.50 0 1 0 5.60,0 a 2.80,11.50 0 1 0 -5.60,0 Z M 31,4.5 L 38.1,4.5 L 26.5,85.6 L 18.2,85.6 Z M 38.00,66.10 a 9.90,18.70 0 1 0 19.80,0 a 9.90,18.70 0 1 0 -19.80,0 Z M 45.00,66.10 a 2.90,12.00 0 1 0 5.80,0 a 2.90,12.00 0 1 0 -5.80,0 Z" fill="#cdcdcd" fill-rule="evenodd"/></svg> EN 2024)</div><div class="t" style="left:1517.80px;top:1780.23px;font-size:40.69px;line-height:40.69px;font-weight:700;color:#7cb82a;transform:scaleX(0.6143);letter-spacing:0.814px;word-spacing:10.174px;-webkit-text-stroke:1.22px #7cb82a;">45<svg viewBox="0 0 57.8 86" preserveAspectRatio="none" style="display:inline-block;vertical-align:baseline;width:34.18px;height:28.49px;margin-left:1.02px;margin-right:1.80px;overflow:visible"><path d="M 0.00,22.40 a 10.00,17.90 0 1 0 20.00,0 a 10.00,17.90 0 1 0 -20.00,0 Z M 7.20,22.40 a 2.80,11.50 0 1 0 5.60,0 a 2.80,11.50 0 1 0 -5.60,0 Z M 31,4.5 L 38.1,4.5 L 26.5,85.6 L 18.2,85.6 Z M 38.00,66.10 a 9.90,18.70 0 1 0 19.80,0 a 9.90,18.70 0 1 0 -19.80,0 Z M 45.00,66.10 a 2.90,12.00 0 1 0 5.80,0 a 2.90,12.00 0 1 0 -5.80,0 Z" fill="#7cb82a" fill-rule="evenodd"/></svg> EN PAI</div><div class="t" style="left:1387.35px;top:1851.78px;font-size:35.22px;line-height:35.22px;font-weight:700;color:#e85d10;transform:scaleX(0.5909);letter-spacing:2.113px;word-spacing:7.043px;">FACILITANT POUR</div><div class="t" style="left:1270.38px;top:1889.80px;font-size:33.19px;line-height:33.19px;font-weight:700;color:#e85d10;transform:scaleX(0.6158);letter-spacing:1.991px;word-spacing:6.638px;">OBTENIR OU ACCÉDER À DU FONCIER</div><div class="t" style="left:509.04px;top:2184.65px;font-size:39.86px;line-height:39.86px;font-weight:700;color:#151515;transform:scaleX(0.6411);letter-spacing:0.797px;word-spacing:9.965px;-webkit-text-stroke:1.20px #151515;">AU DÉMARRAGE</div><div class="t" style="left:784.04px;top:2184.65px;font-size:39.86px;line-height:39.86px;font-weight:700;color:#151515;transform:scaleX(0.6480);letter-spacing:0.797px;word-spacing:9.965px;-webkit-text-stroke:1.20px #151515;">APRÈS 1 AN</div><div class="t" style="left:507.59px;top:2231.51px;font-size:119.86px;line-height:119.86px;font-weight:700;color:#84bb26;transform:scaleX(0.6813);-webkit-text-stroke:2.40px #84bb26;">46<svg viewBox="0 0 57.8 86" preserveAspectRatio="none" style="display:inline-block;vertical-align:baseline;width:100.68px;height:83.90px;margin-left:3.00px;margin-right:2.89px;overflow:visible"><path d="M 0.00,22.40 a 10.00,17.90 0 1 0 20.00,0 a 10.00,17.90 0 1 0 -20.00,0 Z M 7.20,22.40 a 2.80,11.50 0 1 0 5.60,0 a 2.80,11.50 0 1 0 -5.60,0 Z M 31,4.5 L 38.1,4.5 L 26.5,85.6 L 18.2,85.6 Z M 38.00,66.10 a 9.90,18.70 0 1 0 19.80,0 a 9.90,18.70 0 1 0 -19.80,0 Z M 45.00,66.10 a 2.90,12.00 0 1 0 5.80,0 a 2.90,12.00 0 1 0 -5.80,0 Z" fill="#84bb26" fill-rule="evenodd"/></svg></div><div class="t" style="left:784.18px;top:2230.31px;font-size:121.37px;line-height:121.37px;font-weight:700;color:#84bb26;transform:scaleX(0.6679);-webkit-text-stroke:2.43px #84bb26;">32<svg viewBox="0 0 57.8 86" preserveAspectRatio="none" style="display:inline-block;vertical-align:baseline;width:101.95px;height:84.96px;margin-left:3.03px;margin-right:2.93px;overflow:visible"><path d="M 0.00,22.40 a 10.00,17.90 0 1 0 20.00,0 a 10.00,17.90 0 1 0 -20.00,0 Z M 7.20,22.40 a 2.80,11.50 0 1 0 5.60,0 a 2.80,11.50 0 1 0 -5.60,0 Z M 31,4.5 L 38.1,4.5 L 26.5,85.6 L 18.2,85.6 Z M 38.00,66.10 a 9.90,18.70 0 1 0 19.80,0 a 9.90,18.70 0 1 0 -19.80,0 Z M 45.00,66.10 a 2.90,12.00 0 1 0 5.80,0 a 2.90,12.00 0 1 0 -5.80,0 Z" fill="#84bb26" fill-rule="evenodd"/></svg></div><div class="t" style="left:280.34px;top:2197.42px;font-size:24.97px;line-height:24.97px;font-weight:400;color:#ffffff;transform:scaleX(0.9346);-webkit-text-stroke:0.87px #ffffff;">EN</div><div class="t" style="left:280.36px;top:2228.72px;font-size:24.97px;line-height:24.97px;font-weight:400;color:#ffffff;transform:scaleX(0.9198);-webkit-text-stroke:0.87px #ffffff;">RECHERCHE</div><div class="t" style="left:280.26px;top:2260.02px;font-size:24.97px;line-height:24.97px;font-weight:400;color:#ffffff;transform:scaleX(0.9881);-webkit-text-stroke:0.87px #ffffff;">D’EMPLOI</div><div class="t" style="left:106.57px;top:2292.83px;font-size:25.66px;line-height:25.66px;font-weight:400;color:#ffffff;transform:scaleX(0.8988);-webkit-text-stroke:0.90px #ffffff;">SALARIAT</div><div class="t" style="left:125.25px;top:2329.24px;font-size:56.03px;line-height:56.03px;font-weight:700;color:#ffffff;transform:scaleX(0.6812);-webkit-text-stroke:1.12px #ffffff;">27<svg viewBox="0 0 57.8 86" preserveAspectRatio="none" style="display:inline-block;vertical-align:baseline;width:47.06px;height:39.22px;margin-left:1.40px;margin-right:1.35px;overflow:visible"><path d="M 0.00,22.40 a 10.00,17.90 0 1 0 20.00,0 a 10.00,17.90 0 1 0 -20.00,0 Z M 7.20,22.40 a 2.80,11.50 0 1 0 5.60,0 a 2.80,11.50 0 1 0 -5.60,0 Z M 31,4.5 L 38.1,4.5 L 26.5,85.6 L 18.2,85.6 Z M 38.00,66.10 a 9.90,18.70 0 1 0 19.80,0 a 9.90,18.70 0 1 0 -19.80,0 Z M 45.00,66.10 a 2.90,12.00 0 1 0 5.80,0 a 2.90,12.00 0 1 0 -5.80,0 Z" fill="#ffffff" fill-rule="evenodd"/></svg></div><div class="t" style="left:237.65px;top:2396.07px;font-size:55.07px;line-height:55.07px;font-weight:700;color:#ffffff;transform:scaleX(0.6876);-webkit-text-stroke:1.10px #ffffff;">6<svg viewBox="0 0 57.8 86" preserveAspectRatio="none" style="display:inline-block;vertical-align:baseline;width:46.26px;height:38.55px;margin-left:1.38px;margin-right:1.33px;overflow:visible"><path d="M 0.00,22.40 a 10.00,17.90 0 1 0 20.00,0 a 10.00,17.90 0 1 0 -20.00,0 Z M 7.20,22.40 a 2.80,11.50 0 1 0 5.60,0 a 2.80,11.50 0 1 0 -5.60,0 Z M 31,4.5 L 38.1,4.5 L 26.5,85.6 L 18.2,85.6 Z M 38.00,66.10 a 9.90,18.70 0 1 0 19.80,0 a 9.90,18.70 0 1 0 -19.80,0 Z M 45.00,66.10 a 2.90,12.00 0 1 0 5.80,0 a 2.90,12.00 0 1 0 -5.80,0 Z" fill="#ffffff" fill-rule="evenodd"/></svg></div><div class="t" style="left:114.04px;top:2475.13px;font-size:25.66px;line-height:25.66px;font-weight:400;color:#8f8f8f;transform:scaleX(0.9149);-webkit-text-stroke:0.90px #8f8f8f;">CHEF.FES D’ENTREPRISE</div><div class="t" style="left:1042.56px;top:2367.84px;font-size:35.51px;line-height:35.51px;font-weight:700;color:#e85d10;transform:scaleX(0.5820);letter-spacing:2.130px;word-spacing:7.101px;">UNE FRAGILITÉ ÉCONOMIQUE PENDANT LE PARCOURS</div><div class="t" style="left:1068.46px;top:2403.64px;font-size:35.51px;line-height:35.51px;font-weight:700;color:#e85d10;transform:scaleX(0.5819);letter-spacing:2.130px;word-spacing:7.101px;">ET LE DÉFI DE CUMULER ACTIVITÉ ET PARCOURS</div><div class="t" style="left:1258.48px;top:2439.61px;font-size:36.96px;line-height:36.96px;font-weight:700;color:#e85d10;transform:scaleX(0.5592);letter-spacing:2.217px;word-spacing:7.391px;">À L’INSTALLATION</div><div class="tag" style="left:191.30px;top:1167.60px;transform:rotate(-2.45deg)"><svg class="tb" width="332" height="73"><polygon points="0,0 328.69,0.00 328.69,35.33 245.33,35.33 245.33,69.34 0,69.34" fill="#84bb26"/></svg><div class="t" style="left:8.04px;top:7.13px;font-size:25.42px;line-height:25.42px;font-weight:700;color:#ffffff;transform:scaleX(0.8260);-webkit-text-stroke:0.76px #ffffff;">DES PARCOURS PLUS LONGS</div><div class="t" style="left:7.18px;top:40.83px;font-size:25.42px;line-height:25.42px;font-weight:700;color:#ffffff;transform:scaleX(0.8383);-webkit-text-stroke:0.76px #ffffff;">ET PLUS COMPLEXES</div></div><div class="tag" style="left:195.30px;top:1253.20px;transform:rotate(-2.45deg)"><svg class="tb" width="304" height="38"><polygon points="0,0 300.78,0.00 300.78,34.27 0,34.27" fill="#84bb26"/></svg><div class="t" style="left:7.09px;top:5.59px;font-size:25.42px;line-height:25.42px;font-weight:700;color:#ffffff;transform:scaleX(0.8343);-webkit-text-stroke:0.76px #ffffff;">PLUS AGROÉCOLOGIQUES</div></div><div class="tag" style="left:755.00px;top:1158.30px;transform:rotate(-2.45deg)"><svg class="tb" width="339" height="40"><polygon points="0,0 335.34,0.00 335.34,36.67 0,36.67" fill="#84bb26"/></svg><div class="t" style="left:7.08px;top:8.09px;font-size:25.42px;line-height:25.42px;font-weight:700;color:#ffffff;transform:scaleX(0.8427);-webkit-text-stroke:0.76px #ffffff;">DES PARCOURS MOINS AIDÉS</div></div><div class="tag" style="left:757.50px;top:1210.30px;transform:rotate(-2.45deg)"><svg class="tb" width="346" height="106"><polygon points="0,0 311.53,0.00 311.53,33.23 342.16,33.23 342.16,68.43 149.79,68.43 149.79,102.41 0,102.41" fill="#84bb26"/></svg><div class="t" style="left:7.12px;top:6.49px;font-size:25.42px;line-height:25.42px;font-weight:700;color:#ffffff;transform:scaleX(0.8581);-webkit-text-stroke:0.76px #ffffff;">DES BESOINS NON PRIS EN</div><div class="t" style="left:7.74px;top:40.23px;font-size:25.42px;line-height:25.42px;font-weight:700;color:#ffffff;transform:scaleX(0.8401);-webkit-text-stroke:0.76px #ffffff;">CHARGE PAR LES POLITIQUES</div><div class="t" style="left:12.73px;top:73.99px;font-size:25.42px;line-height:25.42px;font-weight:700;color:#ffffff;transform:scaleX(0.8710);-webkit-text-stroke:0.76px #ffffff;">PUBLIQUES</div></div><div class="tag" style="left:1295.60px;top:1203.50px;transform:rotate(-2.45deg)"><svg class="tb" width="368" height="73"><polygon points="0,0 265.58,0.00 265.58,33.12 364.75,33.12 364.75,69.24 0,69.24" fill="#84bb26"/></svg><div class="t" style="left:6.34px;top:6.35px;font-size:25.42px;line-height:25.42px;font-weight:700;color:#ffffff;transform:scaleX(0.8531);-webkit-text-stroke:0.76px #ffffff;">UNE PRISE EN COMPTE</div><div class="t" style="left:7.85px;top:40.12px;font-size:25.42px;line-height:25.42px;font-weight:700;color:#ffffff;transform:scaleX(0.8484);-webkit-text-stroke:0.76px #ffffff;">SPÉCIFIQUE DE LEURS BESOINS</div></div><div class="tag" style="left:1298.90px;top:1286.00px;transform:rotate(-2.45deg)"><svg class="tb" width="380" height="108"><polygon points="0,0 376.05,0.00 376.05,35.32 304.63,35.32 304.63,67.90 322.00,67.90 322.00,104.00 0,104.00" fill="#84bb26"/></svg><div class="t" style="left:7.92px;top:7.12px;font-size:25.42px;line-height:25.42px;font-weight:700;color:#ffffff;transform:scaleX(0.8498);-webkit-text-stroke:0.76px #ffffff;">UN CHANGEMENT DE PRATIQUES</div><div class="t" style="left:9.21px;top:41.86px;font-size:25.42px;line-height:25.42px;font-weight:700;color:#ffffff;transform:scaleX(0.8209);-webkit-text-stroke:0.76px #ffffff;">VERS DES SYSTÈMES PLUS</div><div class="t" style="left:8.21px;top:74.90px;font-size:25.42px;line-height:25.42px;font-weight:700;color:#ffffff;transform:scaleX(0.8493);-webkit-text-stroke:0.76px #ffffff;">ÉCONOMES ET AUTONOMES</div></div><div class="tag" style="left:204.20px;top:1992.60px;transform:rotate(-2.45deg)"><svg class="tb" width="298" height="73"><polygon points="0,0 294.65,0.00 294.65,34.60 235.49,34.60 235.49,69.24 0,69.24" fill="#84bb26"/></svg><div class="t" style="left:7.26px;top:6.40px;font-size:25.42px;line-height:25.42px;font-weight:700;color:#ffffff;transform:scaleX(0.8318);-webkit-text-stroke:0.76px #ffffff;">DES ACCOMPAGNEMENTS</div><div class="t" style="left:8.71px;top:39.44px;font-size:25.42px;line-height:25.42px;font-weight:700;color:#ffffff;transform:scaleX(0.8357);-webkit-text-stroke:0.76px #ffffff;">TOURNÉS VERS EUX</div></div><div class="tag" style="left:745.60px;top:1924.90px;transform:rotate(-2.45deg)"><svg class="tb" width="345" height="141"><polygon points="0,0 294.22,0.00 294.22,33.76 341.74,33.76 341.74,68.96 282.13,68.96 282.13,103.20 232.75,103.20 232.75,137.57 0,137.57" fill="#84bb26"/></svg><div class="t" style="left:7.63px;top:7.11px;font-size:25.42px;line-height:25.42px;font-weight:700;color:#ffffff;transform:scaleX(0.8315);-webkit-text-stroke:0.76px #ffffff;">DES ACCOMPAGNEMENTS</div><div class="t" style="left:9.06px;top:40.76px;font-size:25.42px;line-height:25.42px;font-weight:700;color:#ffffff;transform:scaleX(0.8493);-webkit-text-stroke:0.76px #ffffff;">TOURNÉS SUR LA PERSONNE,</div><div class="t" style="left:8.09px;top:75.00px;font-size:25.42px;line-height:25.42px;font-weight:700;color:#ffffff;transform:scaleX(0.8610);-webkit-text-stroke:0.76px #ffffff;">LE LIEN AU TERRITOIRE,</div><div class="t" style="left:8.41px;top:108.24px;font-size:25.42px;line-height:25.42px;font-weight:700;color:#ffffff;transform:scaleX(0.8337);-webkit-text-stroke:0.76px #ffffff;">LA MISE EN RÉSEAU</div></div><div class="tag" style="left:1257.70px;top:1956.80px;transform:rotate(-2.45deg)"><svg class="tb" width="485" height="107"><polygon points="0,0 413.82,0.00 413.82,34.85 458.99,34.85 458.99,67.31 481.28,67.31 481.28,103.51 0,103.51" fill="#84bb26"/></svg><div class="t" style="left:7.83px;top:6.92px;font-size:25.42px;line-height:25.42px;font-weight:700;color:#ffffff;transform:scaleX(0.8474);-webkit-text-stroke:0.76px #ffffff;">UNE ORIENTATION VERS LA MONTÉE</div><div class="t" style="left:7.63px;top:41.85px;font-size:25.42px;line-height:25.42px;font-weight:700;color:#ffffff;transform:scaleX(0.8449);-webkit-text-stroke:0.76px #ffffff;">EN COMPÉTENCE QUI CORRESPOND AUX</div><div class="t" style="left:8.34px;top:74.31px;font-size:25.42px;line-height:25.42px;font-weight:700;color:#ffffff;transform:scaleX(0.8462);-webkit-text-stroke:0.76px #ffffff;">BESOINS DES PORTEUR.EUSES DE PROJET</div></div><div class="tag" style="left:1154.10px;top:2157.00px;transform:rotate(-2.45deg)"><svg class="tb" width="427" height="73"><polygon points="0,0 423.61,0.00 423.61,35.31 285.33,35.31 285.33,69.74 0,69.74" fill="#84bb26"/></svg><div class="t" style="left:7.59px;top:7.11px;font-size:25.42px;line-height:25.42px;font-weight:700;color:#ffffff;transform:scaleX(0.8649);-webkit-text-stroke:0.76px #ffffff;">LE BESOIN D’UN SOUTIEN FINANCIER</div><div class="t" style="left:13.03px;top:39.87px;font-size:25.42px;line-height:25.42px;font-weight:700;color:#ffffff;transform:scaleX(0.8346);-webkit-text-stroke:0.76px #ffffff;">PENDANT LE PARCOURS</div></div><div class="tag" style="left:1156.50px;top:2233.70px;transform:rotate(-2.45deg)"><svg class="tb" width="492" height="73"><polygon points="0,0 488.57,0.00 488.57,34.66 434.26,34.66 434.26,69.44 0,69.44" fill="#84bb26"/></svg><div class="t" style="left:8.76px;top:6.46px;font-size:25.42px;line-height:25.42px;font-weight:700;color:#ffffff;transform:scaleX(0.8369);-webkit-text-stroke:0.76px #ffffff;">UN ACCOMPAGNEMENT SUR L’ADÉQUATION</div><div class="t" style="left:9.69px;top:38.43px;font-size:25.42px;line-height:25.42px;font-weight:700;color:#ffffff;transform:scaleX(0.8381);-webkit-text-stroke:0.76px #ffffff;">ENTRE PROJET PRO ET PROJET DE VIE</div></div><svg class="l" width="1846" height="2560" viewBox="0 0 1846 2560"><path d="M 160.5,1189.5 L 187.6,1189.5 M 174.1,1176.2 L 190.6,1189.5 L 175.1,1202.8" stroke="#fff" stroke-width="10" fill="none" stroke-linejoin="miter"/><path d="M 160.5,1189.5 L 187.6,1189.5 M 174.1,1176.2 L 190.6,1189.5 L 175.1,1202.8" stroke="#e85d10" stroke-width="6" fill="none" stroke-linejoin="miter"/><path d="M 164.7,1274.6 L 191.3,1274.6 M 177.8,1261.3 L 194.3,1274.6 L 178.8,1287.9" stroke="#fff" stroke-width="10" fill="none" stroke-linejoin="miter"/><path d="M 164.7,1274.6 L 191.3,1274.6 M 177.8,1261.3 L 194.3,1274.6 L 178.8,1287.9" stroke="#e85d10" stroke-width="6" fill="none" stroke-linejoin="miter"/><path d="M 723.9,1179.7 L 751.4,1179.7 M 737.9,1166.4 L 754.4,1179.7 L 738.9,1193.0" stroke="#fff" stroke-width="10" fill="none" stroke-linejoin="miter"/><path d="M 723.9,1179.7 L 751.4,1179.7 M 737.9,1166.4 L 754.4,1179.7 L 738.9,1193.0" stroke="#e85d10" stroke-width="6" fill="none" stroke-linejoin="miter"/><path d="M 727.5,1230.8 L 755.0,1230.8 M 741.5,1217.5 L 758.0,1230.8 L 742.5,1244.1" stroke="#fff" stroke-width="10" fill="none" stroke-linejoin="miter"/><path d="M 727.5,1230.8 L 755.0,1230.8 M 741.5,1217.5 L 758.0,1230.8 L 742.5,1244.1" stroke="#e85d10" stroke-width="6" fill="none" stroke-linejoin="miter"/><path d="M 1264.9,1223.3 L 1293.2,1223.3 M 1279.7,1210.0 L 1296.2,1223.3 L 1280.7,1236.6" stroke="#fff" stroke-width="10" fill="none" stroke-linejoin="miter"/><path d="M 1264.9,1223.3 L 1293.2,1223.3 M 1279.7,1210.0 L 1296.2,1223.3 L 1280.7,1236.6" stroke="#e85d10" stroke-width="6" fill="none" stroke-linejoin="miter"/><path d="M 1269.8,1308.2 L 1299.2,1308.2 M 1285.7,1294.9 L 1302.2,1308.2 L 1286.7,1321.5" stroke="#fff" stroke-width="10" fill="none" stroke-linejoin="miter"/><path d="M 1269.8,1308.2 L 1299.2,1308.2 M 1285.7,1294.9 L 1302.2,1308.2 L 1286.7,1321.5" stroke="#e85d10" stroke-width="6" fill="none" stroke-linejoin="miter"/><path d="M 174.5,2014.4 L 202.9,2014.4 M 189.4,2001.1 L 205.9,2014.4 L 190.4,2027.7" stroke="#fff" stroke-width="10" fill="none" stroke-linejoin="miter"/><path d="M 174.5,2014.4 L 202.9,2014.4 M 189.4,2001.1 L 205.9,2014.4 L 190.4,2027.7" stroke="#e85d10" stroke-width="6" fill="none" stroke-linejoin="miter"/><path d="M 716.5,1947.9 L 744.3,1947.9 M 730.8,1934.6 L 747.3,1947.9 L 731.8,1961.2" stroke="#fff" stroke-width="10" fill="none" stroke-linejoin="miter"/><path d="M 716.5,1947.9 L 744.3,1947.9 M 730.8,1934.6 L 747.3,1947.9 L 731.8,1961.2" stroke="#e85d10" stroke-width="6" fill="none" stroke-linejoin="miter"/><path d="M 1227.7,1977.7 L 1256.0,1977.7 M 1242.5,1964.4 L 1259.0,1977.7 L 1243.5,1991.0" stroke="#fff" stroke-width="10" fill="none" stroke-linejoin="miter"/><path d="M 1227.7,1977.7 L 1256.0,1977.7 M 1242.5,1964.4 L 1259.0,1977.7 L 1243.5,1991.0" stroke="#e85d10" stroke-width="6" fill="none" stroke-linejoin="miter"/><path d="M 1124.0,2177.5 L 1151.8,2177.5 M 1138.3,2164.2 L 1154.8,2177.5 L 1139.3,2190.8" stroke="#fff" stroke-width="10" fill="none" stroke-linejoin="miter"/><path d="M 1124.0,2177.5 L 1151.8,2177.5 M 1138.3,2164.2 L 1154.8,2177.5 L 1139.3,2190.8" stroke="#e85d10" stroke-width="6" fill="none" stroke-linejoin="miter"/><path d="M 1126.7,2254.2 L 1153.5,2254.2 M 1140.0,2240.9 L 1156.5,2254.2 L 1141.0,2267.5" stroke="#fff" stroke-width="10" fill="none" stroke-linejoin="miter"/><path d="M 1126.7,2254.2 L 1153.5,2254.2 M 1140.0,2240.9 L 1156.5,2254.2 L 1141.0,2267.5" stroke="#e85d10" stroke-width="6" fill="none" stroke-linejoin="miter"/></svg></body></html>
